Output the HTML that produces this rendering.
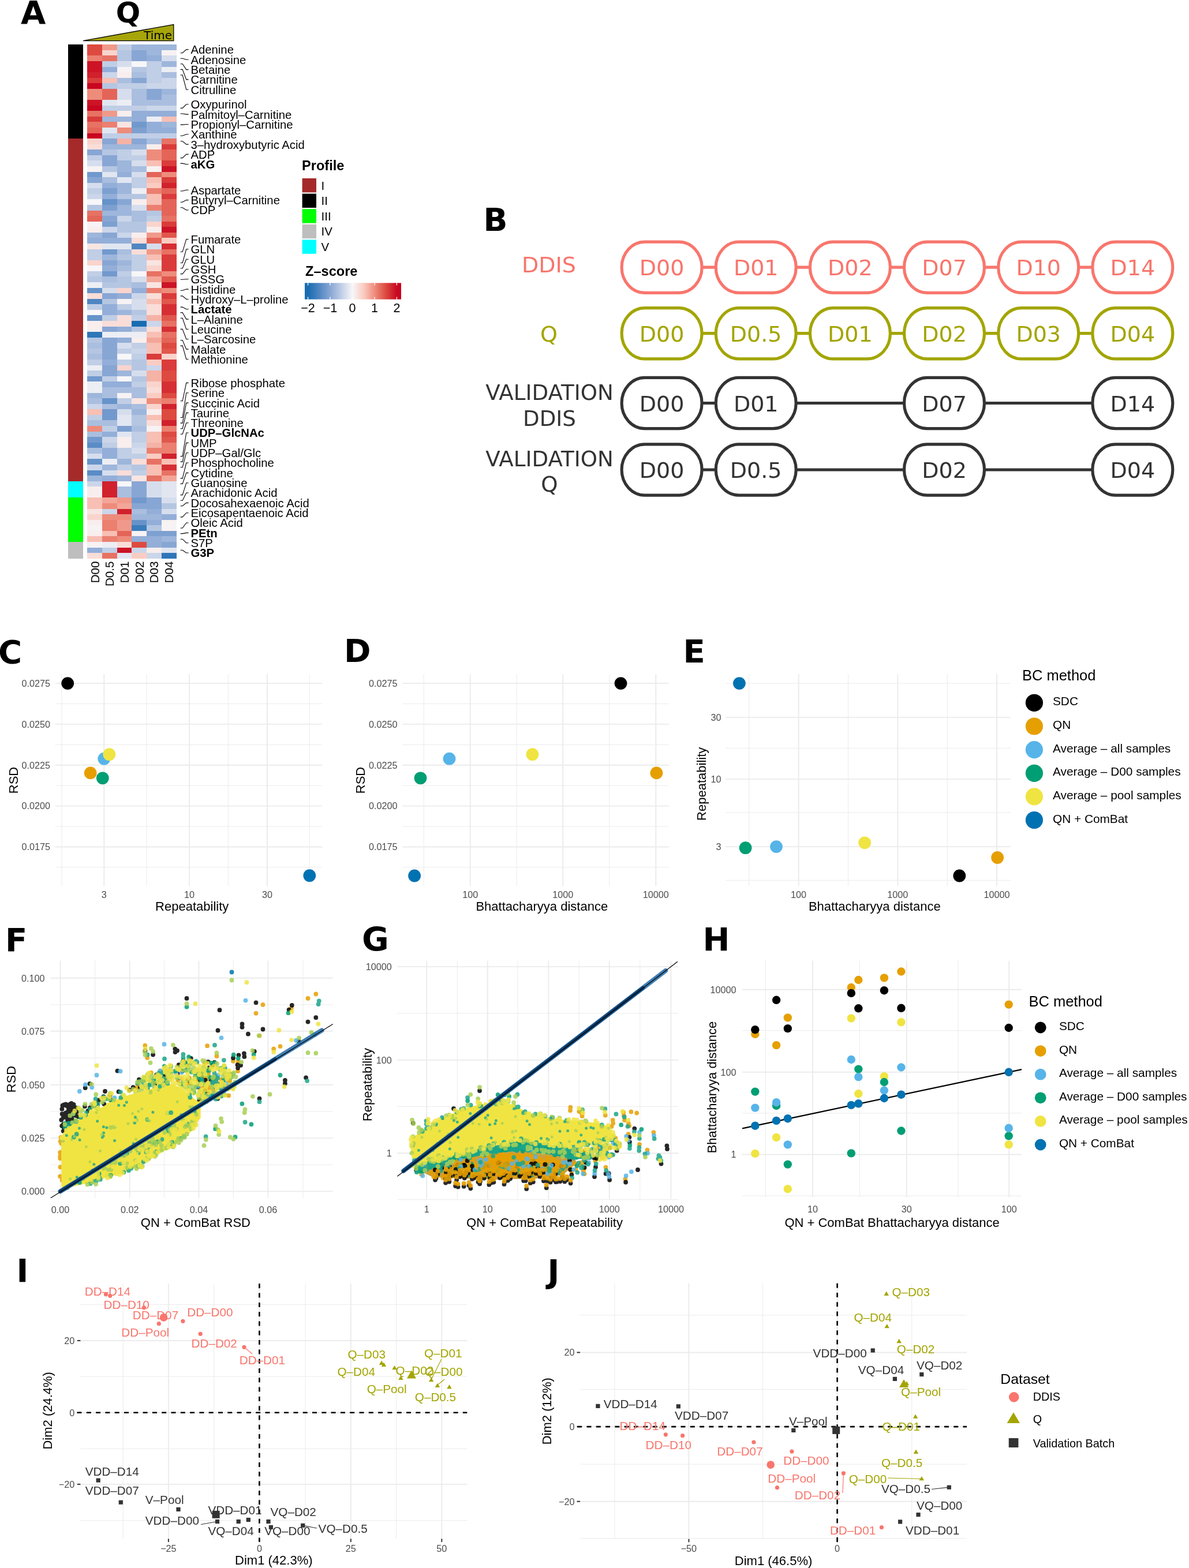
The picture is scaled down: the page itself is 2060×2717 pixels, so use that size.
<!DOCTYPE html>
<html><head><meta charset="utf-8"><title>Figure</title>
<style>html,body{margin:0;padding:0;background:#fff;width:2060px;height:2717px}svg{display:block}</style></head><body>
<svg width="2060" height="2717" viewBox="0 0 2060 2717" font-family="Liberation Sans,Arial,Helvetica,sans-serif">
<rect width="2060" height="2717" fill="#fff"/>
<text x="36" y="40.6" font-size="56" font-family="'DejaVu Sans',sans-serif" font-weight="bold">A</text>
<text x="222" y="39.2" font-size="50" font-family="'DejaVu Sans',sans-serif" font-weight="bold" text-anchor="middle">Q</text>
<path d="M144 70.6L300.8 42.5V70.6Z" fill="#A6A50A" stroke="#000" stroke-width="1.3"/>
<text x="298" y="67.9" font-size="20" font-family="'DejaVu Sans',sans-serif" text-anchor="end">Time</text>
<g shape-rendering="crispEdges">
<rect x="151" y="77.3" width="26.1" height="10" fill="#dd4a40"/>
<rect x="176.7" y="77.3" width="26.1" height="10" fill="#f0998a"/>
<rect x="202.5" y="77.3" width="26.1" height="10" fill="#c0cee6"/>
<rect x="228.2" y="77.3" width="26.1" height="10" fill="#9eb6db"/>
<rect x="253.9" y="77.3" width="26.1" height="10" fill="#9eb6db"/>
<rect x="279.6" y="77.3" width="26.1" height="10" fill="#9eb6db"/>
<rect x="151" y="86.9" width="26.1" height="10" fill="#dd4a40"/>
<rect x="176.7" y="86.9" width="26.1" height="10" fill="#f9d4cd"/>
<rect x="202.5" y="86.9" width="26.1" height="10" fill="#b5c6e2"/>
<rect x="228.2" y="86.9" width="26.1" height="10" fill="#88a6d4"/>
<rect x="253.9" y="86.9" width="26.1" height="10" fill="#9eb6db"/>
<rect x="279.6" y="86.9" width="26.1" height="10" fill="#f7f2f3"/>
<rect x="151" y="96.4" width="26.1" height="10" fill="#eb7f70"/>
<rect x="176.7" y="96.4" width="26.1" height="10" fill="#e77264"/>
<rect x="202.5" y="96.4" width="26.1" height="10" fill="#b5c6e2"/>
<rect x="228.2" y="96.4" width="26.1" height="10" fill="#88a6d4"/>
<rect x="253.9" y="96.4" width="26.1" height="10" fill="#93aed8"/>
<rect x="279.6" y="96.4" width="26.1" height="10" fill="#d6deed"/>
<rect x="151" y="106" width="26.1" height="10" fill="#cc1426"/>
<rect x="176.7" y="106" width="26.1" height="10" fill="#c0cee6"/>
<rect x="202.5" y="106" width="26.1" height="10" fill="#d6deed"/>
<rect x="228.2" y="106" width="26.1" height="10" fill="#f7f6f8"/>
<rect x="253.9" y="106" width="26.1" height="10" fill="#c0cee6"/>
<rect x="279.6" y="106" width="26.1" height="10" fill="#9eb6db"/>
<rect x="151" y="115.6" width="26.1" height="10" fill="#cc1426"/>
<rect x="176.7" y="115.6" width="26.1" height="10" fill="#93aed8"/>
<rect x="202.5" y="115.6" width="26.1" height="10" fill="#f7f2f3"/>
<rect x="228.2" y="115.6" width="26.1" height="10" fill="#b5c6e2"/>
<rect x="253.9" y="115.6" width="26.1" height="10" fill="#c0cee6"/>
<rect x="279.6" y="115.6" width="26.1" height="10" fill="#eceef4"/>
<rect x="151" y="125.2" width="26.1" height="10" fill="#d0212d"/>
<rect x="176.7" y="125.2" width="26.1" height="10" fill="#cbd6ea"/>
<rect x="202.5" y="125.2" width="26.1" height="10" fill="#f8eeed"/>
<rect x="228.2" y="125.2" width="26.1" height="10" fill="#aabedf"/>
<rect x="253.9" y="125.2" width="26.1" height="10" fill="#c0cee6"/>
<rect x="279.6" y="125.2" width="26.1" height="10" fill="#aabedf"/>
<rect x="151" y="134.7" width="26.1" height="10" fill="#d93c3a"/>
<rect x="176.7" y="134.7" width="26.1" height="10" fill="#f8bfb4"/>
<rect x="202.5" y="134.7" width="26.1" height="10" fill="#aabedf"/>
<rect x="228.2" y="134.7" width="26.1" height="10" fill="#88a6d4"/>
<rect x="253.9" y="134.7" width="26.1" height="10" fill="#c0cee6"/>
<rect x="279.6" y="134.7" width="26.1" height="10" fill="#cbd6ea"/>
<rect x="151" y="144.3" width="26.1" height="10" fill="#c80620"/>
<rect x="176.7" y="144.3" width="26.1" height="10" fill="#b5c6e2"/>
<rect x="202.5" y="144.3" width="26.1" height="10" fill="#c0cee6"/>
<rect x="228.2" y="144.3" width="26.1" height="10" fill="#c0cee6"/>
<rect x="253.9" y="144.3" width="26.1" height="10" fill="#cbd6ea"/>
<rect x="279.6" y="144.3" width="26.1" height="10" fill="#cbd6ea"/>
<rect x="151" y="153.9" width="26.1" height="10" fill="#ee8c7c"/>
<rect x="176.7" y="153.9" width="26.1" height="10" fill="#e46458"/>
<rect x="202.5" y="153.9" width="26.1" height="10" fill="#d6deed"/>
<rect x="228.2" y="153.9" width="26.1" height="10" fill="#aabedf"/>
<rect x="253.9" y="153.9" width="26.1" height="10" fill="#88a6d4"/>
<rect x="279.6" y="153.9" width="26.1" height="10" fill="#9eb6db"/>
<rect x="151" y="163.5" width="26.1" height="10" fill="#ee8c7c"/>
<rect x="176.7" y="163.5" width="26.1" height="10" fill="#e46458"/>
<rect x="202.5" y="163.5" width="26.1" height="10" fill="#d6deed"/>
<rect x="228.2" y="163.5" width="26.1" height="10" fill="#aabedf"/>
<rect x="253.9" y="163.5" width="26.1" height="10" fill="#88a6d4"/>
<rect x="279.6" y="163.5" width="26.1" height="10" fill="#aabedf"/>
<rect x="151" y="173" width="26.1" height="10" fill="#cc1426"/>
<rect x="176.7" y="173" width="26.1" height="10" fill="#e1e6f1"/>
<rect x="202.5" y="173" width="26.1" height="10" fill="#eceef4"/>
<rect x="228.2" y="173" width="26.1" height="10" fill="#aabedf"/>
<rect x="253.9" y="173" width="26.1" height="10" fill="#aabedf"/>
<rect x="279.6" y="173" width="26.1" height="10" fill="#aabedf"/>
<rect x="151" y="182.6" width="26.1" height="10" fill="#c80620"/>
<rect x="176.7" y="182.6" width="26.1" height="10" fill="#c0cee6"/>
<rect x="202.5" y="182.6" width="26.1" height="10" fill="#c0cee6"/>
<rect x="228.2" y="182.6" width="26.1" height="10" fill="#c0cee6"/>
<rect x="253.9" y="182.6" width="26.1" height="10" fill="#cbd6ea"/>
<rect x="279.6" y="182.6" width="26.1" height="10" fill="#cbd6ea"/>
<rect x="151" y="192.2" width="26.1" height="10" fill="#e77264"/>
<rect x="176.7" y="192.2" width="26.1" height="10" fill="#f0998a"/>
<rect x="202.5" y="192.2" width="26.1" height="10" fill="#f8eeed"/>
<rect x="228.2" y="192.2" width="26.1" height="10" fill="#93aed8"/>
<rect x="253.9" y="192.2" width="26.1" height="10" fill="#93aed8"/>
<rect x="279.6" y="192.2" width="26.1" height="10" fill="#93aed8"/>
<rect x="151" y="201.8" width="26.1" height="10" fill="#d93c3a"/>
<rect x="176.7" y="201.8" width="26.1" height="10" fill="#9eb6db"/>
<rect x="202.5" y="201.8" width="26.1" height="10" fill="#9eb6db"/>
<rect x="228.2" y="201.8" width="26.1" height="10" fill="#93aed8"/>
<rect x="253.9" y="201.8" width="26.1" height="10" fill="#eceef4"/>
<rect x="279.6" y="201.8" width="26.1" height="10" fill="#f8bfb4"/>
<rect x="151" y="211.3" width="26.1" height="10" fill="#e77264"/>
<rect x="176.7" y="211.3" width="26.1" height="10" fill="#eb7f70"/>
<rect x="202.5" y="211.3" width="26.1" height="10" fill="#f8e5e2"/>
<rect x="228.2" y="211.3" width="26.1" height="10" fill="#7299cd"/>
<rect x="253.9" y="211.3" width="26.1" height="10" fill="#93aed8"/>
<rect x="279.6" y="211.3" width="26.1" height="10" fill="#9eb6db"/>
<rect x="151" y="220.9" width="26.1" height="10" fill="#e46458"/>
<rect x="176.7" y="220.9" width="26.1" height="10" fill="#e1e6f1"/>
<rect x="202.5" y="220.9" width="26.1" height="10" fill="#ee8c7c"/>
<rect x="228.2" y="220.9" width="26.1" height="10" fill="#7da0d0"/>
<rect x="253.9" y="220.9" width="26.1" height="10" fill="#93aed8"/>
<rect x="279.6" y="220.9" width="26.1" height="10" fill="#93aed8"/>
<rect x="151" y="230.5" width="26.1" height="10" fill="#c80620"/>
<rect x="176.7" y="230.5" width="26.1" height="10" fill="#c0cee6"/>
<rect x="202.5" y="230.5" width="26.1" height="10" fill="#c0cee6"/>
<rect x="228.2" y="230.5" width="26.1" height="10" fill="#c0cee6"/>
<rect x="253.9" y="230.5" width="26.1" height="10" fill="#c0cee6"/>
<rect x="279.6" y="230.5" width="26.1" height="10" fill="#c0cee6"/>
<rect x="151" y="240.1" width="26.1" height="10" fill="#f9d4cd"/>
<rect x="176.7" y="240.1" width="26.1" height="10" fill="#88a6d4"/>
<rect x="202.5" y="240.1" width="26.1" height="10" fill="#f5b2a6"/>
<rect x="228.2" y="240.1" width="26.1" height="10" fill="#88a6d4"/>
<rect x="253.9" y="240.1" width="26.1" height="10" fill="#aabedf"/>
<rect x="279.6" y="240.1" width="26.1" height="10" fill="#e77264"/>
<rect x="151" y="249.6" width="26.1" height="10" fill="#f9ddd8"/>
<rect x="176.7" y="249.6" width="26.1" height="10" fill="#9eb6db"/>
<rect x="202.5" y="249.6" width="26.1" height="10" fill="#9eb6db"/>
<rect x="228.2" y="249.6" width="26.1" height="10" fill="#9eb6db"/>
<rect x="253.9" y="249.6" width="26.1" height="10" fill="#f8eeed"/>
<rect x="279.6" y="249.6" width="26.1" height="10" fill="#d93c3a"/>
<rect x="151" y="259.2" width="26.1" height="10" fill="#88a6d4"/>
<rect x="176.7" y="259.2" width="26.1" height="10" fill="#b5c6e2"/>
<rect x="202.5" y="259.2" width="26.1" height="10" fill="#c0cee6"/>
<rect x="228.2" y="259.2" width="26.1" height="10" fill="#d6deed"/>
<rect x="253.9" y="259.2" width="26.1" height="10" fill="#ee8c7c"/>
<rect x="279.6" y="259.2" width="26.1" height="10" fill="#e46458"/>
<rect x="151" y="268.8" width="26.1" height="10" fill="#c0cee6"/>
<rect x="176.7" y="268.8" width="26.1" height="10" fill="#88a6d4"/>
<rect x="202.5" y="268.8" width="26.1" height="10" fill="#c0cee6"/>
<rect x="228.2" y="268.8" width="26.1" height="10" fill="#c0cee6"/>
<rect x="253.9" y="268.8" width="26.1" height="10" fill="#ee8c7c"/>
<rect x="279.6" y="268.8" width="26.1" height="10" fill="#e46458"/>
<rect x="151" y="278.4" width="26.1" height="10" fill="#d6deed"/>
<rect x="176.7" y="278.4" width="26.1" height="10" fill="#88a6d4"/>
<rect x="202.5" y="278.4" width="26.1" height="10" fill="#9eb6db"/>
<rect x="228.2" y="278.4" width="26.1" height="10" fill="#d6deed"/>
<rect x="253.9" y="278.4" width="26.1" height="10" fill="#f8bfb4"/>
<rect x="279.6" y="278.4" width="26.1" height="10" fill="#d93c3a"/>
<rect x="151" y="287.9" width="26.1" height="10" fill="#f7f2f3"/>
<rect x="176.7" y="287.9" width="26.1" height="10" fill="#b5c6e2"/>
<rect x="202.5" y="287.9" width="26.1" height="10" fill="#9eb6db"/>
<rect x="228.2" y="287.9" width="26.1" height="10" fill="#aabedf"/>
<rect x="253.9" y="287.9" width="26.1" height="10" fill="#f7f2f3"/>
<rect x="279.6" y="287.9" width="26.1" height="10" fill="#cc1426"/>
<rect x="151" y="297.5" width="26.1" height="10" fill="#7299cd"/>
<rect x="176.7" y="297.5" width="26.1" height="10" fill="#e1e6f1"/>
<rect x="202.5" y="297.5" width="26.1" height="10" fill="#93aed8"/>
<rect x="228.2" y="297.5" width="26.1" height="10" fill="#d6deed"/>
<rect x="253.9" y="297.5" width="26.1" height="10" fill="#e46458"/>
<rect x="279.6" y="297.5" width="26.1" height="10" fill="#ee8c7c"/>
<rect x="151" y="307.1" width="26.1" height="10" fill="#88a6d4"/>
<rect x="176.7" y="307.1" width="26.1" height="10" fill="#aabedf"/>
<rect x="202.5" y="307.1" width="26.1" height="10" fill="#e1e6f1"/>
<rect x="228.2" y="307.1" width="26.1" height="10" fill="#c0cee6"/>
<rect x="253.9" y="307.1" width="26.1" height="10" fill="#f8bfb4"/>
<rect x="279.6" y="307.1" width="26.1" height="10" fill="#d93c3a"/>
<rect x="151" y="316.6" width="26.1" height="10" fill="#d6deed"/>
<rect x="176.7" y="316.6" width="26.1" height="10" fill="#93aed8"/>
<rect x="202.5" y="316.6" width="26.1" height="10" fill="#9eb6db"/>
<rect x="228.2" y="316.6" width="26.1" height="10" fill="#c0cee6"/>
<rect x="253.9" y="316.6" width="26.1" height="10" fill="#faccc2"/>
<rect x="279.6" y="316.6" width="26.1" height="10" fill="#d0212d"/>
<rect x="151" y="326.2" width="26.1" height="10" fill="#c0cee6"/>
<rect x="176.7" y="326.2" width="26.1" height="10" fill="#7da0d0"/>
<rect x="202.5" y="326.2" width="26.1" height="10" fill="#9eb6db"/>
<rect x="228.2" y="326.2" width="26.1" height="10" fill="#eceef4"/>
<rect x="253.9" y="326.2" width="26.1" height="10" fill="#eb7f70"/>
<rect x="279.6" y="326.2" width="26.1" height="10" fill="#e46458"/>
<rect x="151" y="335.8" width="26.1" height="10" fill="#cbd6ea"/>
<rect x="176.7" y="335.8" width="26.1" height="10" fill="#93aed8"/>
<rect x="202.5" y="335.8" width="26.1" height="10" fill="#b5c6e2"/>
<rect x="228.2" y="335.8" width="26.1" height="10" fill="#b5c6e2"/>
<rect x="253.9" y="335.8" width="26.1" height="10" fill="#f8bfb4"/>
<rect x="279.6" y="335.8" width="26.1" height="10" fill="#d93c3a"/>
<rect x="151" y="345.4" width="26.1" height="10" fill="#f7f6f8"/>
<rect x="176.7" y="345.4" width="26.1" height="10" fill="#6693c9"/>
<rect x="202.5" y="345.4" width="26.1" height="10" fill="#88a6d4"/>
<rect x="228.2" y="345.4" width="26.1" height="10" fill="#f8eeed"/>
<rect x="253.9" y="345.4" width="26.1" height="10" fill="#f8bfb4"/>
<rect x="279.6" y="345.4" width="26.1" height="10" fill="#e46458"/>
<rect x="151" y="354.9" width="26.1" height="10" fill="#b5c6e2"/>
<rect x="176.7" y="354.9" width="26.1" height="10" fill="#7da0d0"/>
<rect x="202.5" y="354.9" width="26.1" height="10" fill="#9eb6db"/>
<rect x="228.2" y="354.9" width="26.1" height="10" fill="#d6deed"/>
<rect x="253.9" y="354.9" width="26.1" height="10" fill="#eb7f70"/>
<rect x="279.6" y="354.9" width="26.1" height="10" fill="#e46458"/>
<rect x="151" y="364.5" width="26.1" height="10" fill="#e77264"/>
<rect x="176.7" y="364.5" width="26.1" height="10" fill="#9eb6db"/>
<rect x="202.5" y="364.5" width="26.1" height="10" fill="#9eb6db"/>
<rect x="228.2" y="364.5" width="26.1" height="10" fill="#aabedf"/>
<rect x="253.9" y="364.5" width="26.1" height="10" fill="#b5c6e2"/>
<rect x="279.6" y="364.5" width="26.1" height="10" fill="#e46458"/>
<rect x="151" y="374.1" width="26.1" height="10" fill="#e46458"/>
<rect x="176.7" y="374.1" width="26.1" height="10" fill="#88a6d4"/>
<rect x="202.5" y="374.1" width="26.1" height="10" fill="#cbd6ea"/>
<rect x="228.2" y="374.1" width="26.1" height="10" fill="#aabedf"/>
<rect x="253.9" y="374.1" width="26.1" height="10" fill="#c0cee6"/>
<rect x="279.6" y="374.1" width="26.1" height="10" fill="#e77264"/>
<rect x="151" y="383.7" width="26.1" height="10" fill="#f7f2f3"/>
<rect x="176.7" y="383.7" width="26.1" height="10" fill="#7da0d0"/>
<rect x="202.5" y="383.7" width="26.1" height="10" fill="#b5c6e2"/>
<rect x="228.2" y="383.7" width="26.1" height="10" fill="#b5c6e2"/>
<rect x="253.9" y="383.7" width="26.1" height="10" fill="#f9d4cd"/>
<rect x="279.6" y="383.7" width="26.1" height="10" fill="#d93c3a"/>
<rect x="151" y="393.2" width="26.1" height="10" fill="#f8eeed"/>
<rect x="176.7" y="393.2" width="26.1" height="10" fill="#cbd6ea"/>
<rect x="202.5" y="393.2" width="26.1" height="10" fill="#b5c6e2"/>
<rect x="228.2" y="393.2" width="26.1" height="10" fill="#b5c6e2"/>
<rect x="253.9" y="393.2" width="26.1" height="10" fill="#f8eeed"/>
<rect x="279.6" y="393.2" width="26.1" height="10" fill="#cc1426"/>
<rect x="151" y="402.8" width="26.1" height="10" fill="#9eb6db"/>
<rect x="176.7" y="402.8" width="26.1" height="10" fill="#88a6d4"/>
<rect x="202.5" y="402.8" width="26.1" height="10" fill="#cbd6ea"/>
<rect x="228.2" y="402.8" width="26.1" height="10" fill="#f8eeed"/>
<rect x="253.9" y="402.8" width="26.1" height="10" fill="#f0998a"/>
<rect x="279.6" y="402.8" width="26.1" height="10" fill="#e0574c"/>
<rect x="151" y="412.4" width="26.1" height="10" fill="#93aed8"/>
<rect x="176.7" y="412.4" width="26.1" height="10" fill="#93aed8"/>
<rect x="202.5" y="412.4" width="26.1" height="10" fill="#93aed8"/>
<rect x="228.2" y="412.4" width="26.1" height="10" fill="#f9ddd8"/>
<rect x="253.9" y="412.4" width="26.1" height="10" fill="#e46458"/>
<rect x="279.6" y="412.4" width="26.1" height="10" fill="#faccc2"/>
<rect x="151" y="422" width="26.1" height="10" fill="#f8e5e2"/>
<rect x="176.7" y="422" width="26.1" height="10" fill="#e1e6f1"/>
<rect x="202.5" y="422" width="26.1" height="10" fill="#e1e6f1"/>
<rect x="228.2" y="422" width="26.1" height="10" fill="#5086c2"/>
<rect x="253.9" y="422" width="26.1" height="10" fill="#d6deed"/>
<rect x="279.6" y="422" width="26.1" height="10" fill="#d52f33"/>
<rect x="151" y="431.5" width="26.1" height="10" fill="#c0cee6"/>
<rect x="176.7" y="431.5" width="26.1" height="10" fill="#7299cd"/>
<rect x="202.5" y="431.5" width="26.1" height="10" fill="#aabedf"/>
<rect x="228.2" y="431.5" width="26.1" height="10" fill="#f9ddd8"/>
<rect x="253.9" y="431.5" width="26.1" height="10" fill="#f0998a"/>
<rect x="279.6" y="431.5" width="26.1" height="10" fill="#e77264"/>
<rect x="151" y="441.1" width="26.1" height="10" fill="#c0cee6"/>
<rect x="176.7" y="441.1" width="26.1" height="10" fill="#9eb6db"/>
<rect x="202.5" y="441.1" width="26.1" height="10" fill="#b5c6e2"/>
<rect x="228.2" y="441.1" width="26.1" height="10" fill="#c0cee6"/>
<rect x="253.9" y="441.1" width="26.1" height="10" fill="#f8bfb4"/>
<rect x="279.6" y="441.1" width="26.1" height="10" fill="#d93c3a"/>
<rect x="151" y="450.7" width="26.1" height="10" fill="#f9d4cd"/>
<rect x="176.7" y="450.7" width="26.1" height="10" fill="#88a6d4"/>
<rect x="202.5" y="450.7" width="26.1" height="10" fill="#9eb6db"/>
<rect x="228.2" y="450.7" width="26.1" height="10" fill="#c0cee6"/>
<rect x="253.9" y="450.7" width="26.1" height="10" fill="#f8e5e2"/>
<rect x="279.6" y="450.7" width="26.1" height="10" fill="#d93c3a"/>
<rect x="151" y="460.3" width="26.1" height="10" fill="#f7f6f8"/>
<rect x="176.7" y="460.3" width="26.1" height="10" fill="#93aed8"/>
<rect x="202.5" y="460.3" width="26.1" height="10" fill="#aabedf"/>
<rect x="228.2" y="460.3" width="26.1" height="10" fill="#c0cee6"/>
<rect x="253.9" y="460.3" width="26.1" height="10" fill="#f9d4cd"/>
<rect x="279.6" y="460.3" width="26.1" height="10" fill="#d93c3a"/>
<rect x="151" y="469.8" width="26.1" height="10" fill="#c0cee6"/>
<rect x="176.7" y="469.8" width="26.1" height="10" fill="#7299cd"/>
<rect x="202.5" y="469.8" width="26.1" height="10" fill="#c0cee6"/>
<rect x="228.2" y="469.8" width="26.1" height="10" fill="#f7f6f8"/>
<rect x="253.9" y="469.8" width="26.1" height="10" fill="#e77264"/>
<rect x="279.6" y="469.8" width="26.1" height="10" fill="#ee8c7c"/>
<rect x="151" y="479.4" width="26.1" height="10" fill="#b5c6e2"/>
<rect x="176.7" y="479.4" width="26.1" height="10" fill="#aabedf"/>
<rect x="202.5" y="479.4" width="26.1" height="10" fill="#b5c6e2"/>
<rect x="228.2" y="479.4" width="26.1" height="10" fill="#d6deed"/>
<rect x="253.9" y="479.4" width="26.1" height="10" fill="#f3a698"/>
<rect x="279.6" y="479.4" width="26.1" height="10" fill="#e0574c"/>
<rect x="151" y="489" width="26.1" height="10" fill="#eceef4"/>
<rect x="176.7" y="489" width="26.1" height="10" fill="#b5c6e2"/>
<rect x="202.5" y="489" width="26.1" height="10" fill="#b5c6e2"/>
<rect x="228.2" y="489" width="26.1" height="10" fill="#aabedf"/>
<rect x="253.9" y="489" width="26.1" height="10" fill="#f8e5e2"/>
<rect x="279.6" y="489" width="26.1" height="10" fill="#cc1426"/>
<rect x="151" y="498.6" width="26.1" height="10" fill="#6693c9"/>
<rect x="176.7" y="498.6" width="26.1" height="10" fill="#d6deed"/>
<rect x="202.5" y="498.6" width="26.1" height="10" fill="#f9d4cd"/>
<rect x="228.2" y="498.6" width="26.1" height="10" fill="#93aed8"/>
<rect x="253.9" y="498.6" width="26.1" height="10" fill="#eb7f70"/>
<rect x="279.6" y="498.6" width="26.1" height="10" fill="#ee8c7c"/>
<rect x="151" y="508.1" width="26.1" height="10" fill="#f9ddd8"/>
<rect x="176.7" y="508.1" width="26.1" height="10" fill="#88a6d4"/>
<rect x="202.5" y="508.1" width="26.1" height="10" fill="#93aed8"/>
<rect x="228.2" y="508.1" width="26.1" height="10" fill="#cbd6ea"/>
<rect x="253.9" y="508.1" width="26.1" height="10" fill="#f9ddd8"/>
<rect x="279.6" y="508.1" width="26.1" height="10" fill="#d93c3a"/>
<rect x="151" y="517.7" width="26.1" height="10" fill="#5086c2"/>
<rect x="176.7" y="517.7" width="26.1" height="10" fill="#b5c6e2"/>
<rect x="202.5" y="517.7" width="26.1" height="10" fill="#f7f2f3"/>
<rect x="228.2" y="517.7" width="26.1" height="10" fill="#d6deed"/>
<rect x="253.9" y="517.7" width="26.1" height="10" fill="#f8bfb4"/>
<rect x="279.6" y="517.7" width="26.1" height="10" fill="#e0574c"/>
<rect x="151" y="527.3" width="26.1" height="10" fill="#c0cee6"/>
<rect x="176.7" y="527.3" width="26.1" height="10" fill="#93aed8"/>
<rect x="202.5" y="527.3" width="26.1" height="10" fill="#c0cee6"/>
<rect x="228.2" y="527.3" width="26.1" height="10" fill="#d6deed"/>
<rect x="253.9" y="527.3" width="26.1" height="10" fill="#f9ddd8"/>
<rect x="279.6" y="527.3" width="26.1" height="10" fill="#d52f33"/>
<rect x="151" y="536.9" width="26.1" height="10" fill="#f7f6f8"/>
<rect x="176.7" y="536.9" width="26.1" height="10" fill="#93aed8"/>
<rect x="202.5" y="536.9" width="26.1" height="10" fill="#9eb6db"/>
<rect x="228.2" y="536.9" width="26.1" height="10" fill="#b5c6e2"/>
<rect x="253.9" y="536.9" width="26.1" height="10" fill="#f9ddd8"/>
<rect x="279.6" y="536.9" width="26.1" height="10" fill="#d52f33"/>
<rect x="151" y="546.4" width="26.1" height="10" fill="#6693c9"/>
<rect x="176.7" y="546.4" width="26.1" height="10" fill="#c0cee6"/>
<rect x="202.5" y="546.4" width="26.1" height="10" fill="#f9ddd8"/>
<rect x="228.2" y="546.4" width="26.1" height="10" fill="#c0cee6"/>
<rect x="253.9" y="546.4" width="26.1" height="10" fill="#f5b2a6"/>
<rect x="279.6" y="546.4" width="26.1" height="10" fill="#e0574c"/>
<rect x="151" y="556" width="26.1" height="10" fill="#f8eeed"/>
<rect x="176.7" y="556" width="26.1" height="10" fill="#f9ddd8"/>
<rect x="202.5" y="556" width="26.1" height="10" fill="#f9ddd8"/>
<rect x="228.2" y="556" width="26.1" height="10" fill="#196cb2"/>
<rect x="253.9" y="556" width="26.1" height="10" fill="#cbd6ea"/>
<rect x="279.6" y="556" width="26.1" height="10" fill="#e77264"/>
<rect x="151" y="565.6" width="26.1" height="10" fill="#f8eeed"/>
<rect x="176.7" y="565.6" width="26.1" height="10" fill="#88a6d4"/>
<rect x="202.5" y="565.6" width="26.1" height="10" fill="#93aed8"/>
<rect x="228.2" y="565.6" width="26.1" height="10" fill="#b5c6e2"/>
<rect x="253.9" y="565.6" width="26.1" height="10" fill="#f9ddd8"/>
<rect x="279.6" y="565.6" width="26.1" height="10" fill="#d52f33"/>
<rect x="151" y="575.1" width="26.1" height="10" fill="#2f76b8"/>
<rect x="176.7" y="575.1" width="26.1" height="10" fill="#eceef4"/>
<rect x="202.5" y="575.1" width="26.1" height="10" fill="#eceef4"/>
<rect x="228.2" y="575.1" width="26.1" height="10" fill="#eceef4"/>
<rect x="253.9" y="575.1" width="26.1" height="10" fill="#f8bfb4"/>
<rect x="279.6" y="575.1" width="26.1" height="10" fill="#e77264"/>
<rect x="151" y="584.7" width="26.1" height="10" fill="#b5c6e2"/>
<rect x="176.7" y="584.7" width="26.1" height="10" fill="#88a6d4"/>
<rect x="202.5" y="584.7" width="26.1" height="10" fill="#93aed8"/>
<rect x="228.2" y="584.7" width="26.1" height="10" fill="#f8eeed"/>
<rect x="253.9" y="584.7" width="26.1" height="10" fill="#f3a698"/>
<rect x="279.6" y="584.7" width="26.1" height="10" fill="#e46458"/>
<rect x="151" y="594.3" width="26.1" height="10" fill="#aabedf"/>
<rect x="176.7" y="594.3" width="26.1" height="10" fill="#88a6d4"/>
<rect x="202.5" y="594.3" width="26.1" height="10" fill="#d6deed"/>
<rect x="228.2" y="594.3" width="26.1" height="10" fill="#c0cee6"/>
<rect x="253.9" y="594.3" width="26.1" height="10" fill="#f8bfb4"/>
<rect x="279.6" y="594.3" width="26.1" height="10" fill="#dd4a40"/>
<rect x="151" y="603.9" width="26.1" height="10" fill="#b5c6e2"/>
<rect x="176.7" y="603.9" width="26.1" height="10" fill="#88a6d4"/>
<rect x="202.5" y="603.9" width="26.1" height="10" fill="#c0cee6"/>
<rect x="228.2" y="603.9" width="26.1" height="10" fill="#cbd6ea"/>
<rect x="253.9" y="603.9" width="26.1" height="10" fill="#f8bfb4"/>
<rect x="279.6" y="603.9" width="26.1" height="10" fill="#e0574c"/>
<rect x="151" y="613.4" width="26.1" height="10" fill="#aabedf"/>
<rect x="176.7" y="613.4" width="26.1" height="10" fill="#88a6d4"/>
<rect x="202.5" y="613.4" width="26.1" height="10" fill="#f7f6f8"/>
<rect x="228.2" y="613.4" width="26.1" height="10" fill="#c0cee6"/>
<rect x="253.9" y="613.4" width="26.1" height="10" fill="#d93c3a"/>
<rect x="279.6" y="613.4" width="26.1" height="10" fill="#f9d4cd"/>
<rect x="151" y="623" width="26.1" height="10" fill="#c0cee6"/>
<rect x="176.7" y="623" width="26.1" height="10" fill="#93aed8"/>
<rect x="202.5" y="623" width="26.1" height="10" fill="#c0cee6"/>
<rect x="228.2" y="623" width="26.1" height="10" fill="#b5c6e2"/>
<rect x="253.9" y="623" width="26.1" height="10" fill="#faccc2"/>
<rect x="279.6" y="623" width="26.1" height="10" fill="#d93c3a"/>
<rect x="151" y="632.6" width="26.1" height="10" fill="#eceef4"/>
<rect x="176.7" y="632.6" width="26.1" height="10" fill="#88a6d4"/>
<rect x="202.5" y="632.6" width="26.1" height="10" fill="#f9d4cd"/>
<rect x="228.2" y="632.6" width="26.1" height="10" fill="#b5c6e2"/>
<rect x="253.9" y="632.6" width="26.1" height="10" fill="#cbd6ea"/>
<rect x="279.6" y="632.6" width="26.1" height="10" fill="#d93c3a"/>
<rect x="151" y="642.2" width="26.1" height="10" fill="#c0cee6"/>
<rect x="176.7" y="642.2" width="26.1" height="10" fill="#88a6d4"/>
<rect x="202.5" y="642.2" width="26.1" height="10" fill="#9eb6db"/>
<rect x="228.2" y="642.2" width="26.1" height="10" fill="#d6deed"/>
<rect x="253.9" y="642.2" width="26.1" height="10" fill="#f5b2a6"/>
<rect x="279.6" y="642.2" width="26.1" height="10" fill="#dd4a40"/>
<rect x="151" y="651.7" width="26.1" height="10" fill="#7299cd"/>
<rect x="176.7" y="651.7" width="26.1" height="10" fill="#c0cee6"/>
<rect x="202.5" y="651.7" width="26.1" height="10" fill="#f7f6f8"/>
<rect x="228.2" y="651.7" width="26.1" height="10" fill="#b5c6e2"/>
<rect x="253.9" y="651.7" width="26.1" height="10" fill="#f5b2a6"/>
<rect x="279.6" y="651.7" width="26.1" height="10" fill="#dd4a40"/>
<rect x="151" y="661.3" width="26.1" height="10" fill="#eceef4"/>
<rect x="176.7" y="661.3" width="26.1" height="10" fill="#93aed8"/>
<rect x="202.5" y="661.3" width="26.1" height="10" fill="#93aed8"/>
<rect x="228.2" y="661.3" width="26.1" height="10" fill="#c0cee6"/>
<rect x="253.9" y="661.3" width="26.1" height="10" fill="#f9d4cd"/>
<rect x="279.6" y="661.3" width="26.1" height="10" fill="#d52f33"/>
<rect x="151" y="670.9" width="26.1" height="10" fill="#eceef4"/>
<rect x="176.7" y="670.9" width="26.1" height="10" fill="#aabedf"/>
<rect x="202.5" y="670.9" width="26.1" height="10" fill="#aabedf"/>
<rect x="228.2" y="670.9" width="26.1" height="10" fill="#aabedf"/>
<rect x="253.9" y="670.9" width="26.1" height="10" fill="#f9ddd8"/>
<rect x="279.6" y="670.9" width="26.1" height="10" fill="#d52f33"/>
<rect x="151" y="680.5" width="26.1" height="10" fill="#9eb6db"/>
<rect x="176.7" y="680.5" width="26.1" height="10" fill="#aabedf"/>
<rect x="202.5" y="680.5" width="26.1" height="10" fill="#f7f2f3"/>
<rect x="228.2" y="680.5" width="26.1" height="10" fill="#aabedf"/>
<rect x="253.9" y="680.5" width="26.1" height="10" fill="#faccc2"/>
<rect x="279.6" y="680.5" width="26.1" height="10" fill="#dd4a40"/>
<rect x="151" y="690" width="26.1" height="10" fill="#aabedf"/>
<rect x="176.7" y="690" width="26.1" height="10" fill="#6693c9"/>
<rect x="202.5" y="690" width="26.1" height="10" fill="#c0cee6"/>
<rect x="228.2" y="690" width="26.1" height="10" fill="#f8e5e2"/>
<rect x="253.9" y="690" width="26.1" height="10" fill="#ee8c7c"/>
<rect x="279.6" y="690" width="26.1" height="10" fill="#eb7f70"/>
<rect x="151" y="699.6" width="26.1" height="10" fill="#cbd6ea"/>
<rect x="176.7" y="699.6" width="26.1" height="10" fill="#aabedf"/>
<rect x="202.5" y="699.6" width="26.1" height="10" fill="#9eb6db"/>
<rect x="228.2" y="699.6" width="26.1" height="10" fill="#aabedf"/>
<rect x="253.9" y="699.6" width="26.1" height="10" fill="#f9d4cd"/>
<rect x="279.6" y="699.6" width="26.1" height="10" fill="#d0212d"/>
<rect x="151" y="709.2" width="26.1" height="10" fill="#f8bfb4"/>
<rect x="176.7" y="709.2" width="26.1" height="10" fill="#7299cd"/>
<rect x="202.5" y="709.2" width="26.1" height="10" fill="#d6deed"/>
<rect x="228.2" y="709.2" width="26.1" height="10" fill="#9eb6db"/>
<rect x="253.9" y="709.2" width="26.1" height="10" fill="#f8eeed"/>
<rect x="279.6" y="709.2" width="26.1" height="10" fill="#dd4a40"/>
<rect x="151" y="718.8" width="26.1" height="10" fill="#c0cee6"/>
<rect x="176.7" y="718.8" width="26.1" height="10" fill="#7299cd"/>
<rect x="202.5" y="718.8" width="26.1" height="10" fill="#e1e6f1"/>
<rect x="228.2" y="718.8" width="26.1" height="10" fill="#b5c6e2"/>
<rect x="253.9" y="718.8" width="26.1" height="10" fill="#f8bfb4"/>
<rect x="279.6" y="718.8" width="26.1" height="10" fill="#dd4a40"/>
<rect x="151" y="728.3" width="26.1" height="10" fill="#aabedf"/>
<rect x="176.7" y="728.3" width="26.1" height="10" fill="#aabedf"/>
<rect x="202.5" y="728.3" width="26.1" height="10" fill="#e1e6f1"/>
<rect x="228.2" y="728.3" width="26.1" height="10" fill="#b5c6e2"/>
<rect x="253.9" y="728.3" width="26.1" height="10" fill="#f9ddd8"/>
<rect x="279.6" y="728.3" width="26.1" height="10" fill="#d0212d"/>
<rect x="151" y="737.9" width="26.1" height="10" fill="#ee8c7c"/>
<rect x="176.7" y="737.9" width="26.1" height="10" fill="#c0cee6"/>
<rect x="202.5" y="737.9" width="26.1" height="10" fill="#7da0d0"/>
<rect x="228.2" y="737.9" width="26.1" height="10" fill="#aabedf"/>
<rect x="253.9" y="737.9" width="26.1" height="10" fill="#f7f2f3"/>
<rect x="279.6" y="737.9" width="26.1" height="10" fill="#eb7f70"/>
<rect x="151" y="747.5" width="26.1" height="10" fill="#aabedf"/>
<rect x="176.7" y="747.5" width="26.1" height="10" fill="#93aed8"/>
<rect x="202.5" y="747.5" width="26.1" height="10" fill="#e1e6f1"/>
<rect x="228.2" y="747.5" width="26.1" height="10" fill="#c0cee6"/>
<rect x="253.9" y="747.5" width="26.1" height="10" fill="#f8bfb4"/>
<rect x="279.6" y="747.5" width="26.1" height="10" fill="#dd4a40"/>
<rect x="151" y="757.1" width="26.1" height="10" fill="#7299cd"/>
<rect x="176.7" y="757.1" width="26.1" height="10" fill="#cbd6ea"/>
<rect x="202.5" y="757.1" width="26.1" height="10" fill="#f8eeed"/>
<rect x="228.2" y="757.1" width="26.1" height="10" fill="#c0cee6"/>
<rect x="253.9" y="757.1" width="26.1" height="10" fill="#f8bfb4"/>
<rect x="279.6" y="757.1" width="26.1" height="10" fill="#e0574c"/>
<rect x="151" y="766.6" width="26.1" height="10" fill="#5b8cc6"/>
<rect x="176.7" y="766.6" width="26.1" height="10" fill="#c0cee6"/>
<rect x="202.5" y="766.6" width="26.1" height="10" fill="#f8eeed"/>
<rect x="228.2" y="766.6" width="26.1" height="10" fill="#cbd6ea"/>
<rect x="253.9" y="766.6" width="26.1" height="10" fill="#f5b2a6"/>
<rect x="279.6" y="766.6" width="26.1" height="10" fill="#eb7f70"/>
<rect x="151" y="776.2" width="26.1" height="10" fill="#aabedf"/>
<rect x="176.7" y="776.2" width="26.1" height="10" fill="#93aed8"/>
<rect x="202.5" y="776.2" width="26.1" height="10" fill="#c0cee6"/>
<rect x="228.2" y="776.2" width="26.1" height="10" fill="#d6deed"/>
<rect x="253.9" y="776.2" width="26.1" height="10" fill="#eb7f70"/>
<rect x="279.6" y="776.2" width="26.1" height="10" fill="#eb7f70"/>
<rect x="151" y="785.8" width="26.1" height="10" fill="#d6deed"/>
<rect x="176.7" y="785.8" width="26.1" height="10" fill="#93aed8"/>
<rect x="202.5" y="785.8" width="26.1" height="10" fill="#c0cee6"/>
<rect x="228.2" y="785.8" width="26.1" height="10" fill="#c0cee6"/>
<rect x="253.9" y="785.8" width="26.1" height="10" fill="#faccc2"/>
<rect x="279.6" y="785.8" width="26.1" height="10" fill="#d0212d"/>
<rect x="151" y="795.3" width="26.1" height="10" fill="#6693c9"/>
<rect x="176.7" y="795.3" width="26.1" height="10" fill="#eceef4"/>
<rect x="202.5" y="795.3" width="26.1" height="10" fill="#9eb6db"/>
<rect x="228.2" y="795.3" width="26.1" height="10" fill="#f9ddd8"/>
<rect x="253.9" y="795.3" width="26.1" height="10" fill="#e77264"/>
<rect x="279.6" y="795.3" width="26.1" height="10" fill="#f8bfb4"/>
<rect x="151" y="804.9" width="26.1" height="10" fill="#cbd6ea"/>
<rect x="176.7" y="804.9" width="26.1" height="10" fill="#9eb6db"/>
<rect x="202.5" y="804.9" width="26.1" height="10" fill="#c0cee6"/>
<rect x="228.2" y="804.9" width="26.1" height="10" fill="#b5c6e2"/>
<rect x="253.9" y="804.9" width="26.1" height="10" fill="#f8bfb4"/>
<rect x="279.6" y="804.9" width="26.1" height="10" fill="#d52f33"/>
<rect x="151" y="814.5" width="26.1" height="10" fill="#5b8cc6"/>
<rect x="176.7" y="814.5" width="26.1" height="10" fill="#d6deed"/>
<rect x="202.5" y="814.5" width="26.1" height="10" fill="#f9ddd8"/>
<rect x="228.2" y="814.5" width="26.1" height="10" fill="#c0cee6"/>
<rect x="253.9" y="814.5" width="26.1" height="10" fill="#f8bfb4"/>
<rect x="279.6" y="814.5" width="26.1" height="10" fill="#e77264"/>
<rect x="151" y="824.1" width="26.1" height="10" fill="#9eb6db"/>
<rect x="176.7" y="824.1" width="26.1" height="10" fill="#93aed8"/>
<rect x="202.5" y="824.1" width="26.1" height="10" fill="#9eb6db"/>
<rect x="228.2" y="824.1" width="26.1" height="10" fill="#f8e5e2"/>
<rect x="253.9" y="824.1" width="26.1" height="10" fill="#e77264"/>
<rect x="279.6" y="824.1" width="26.1" height="10" fill="#f3a698"/>
<rect x="151" y="833.6" width="26.1" height="10" fill="#cbd6ea"/>
<rect x="176.7" y="833.6" width="26.1" height="10" fill="#d0212d"/>
<rect x="202.5" y="833.6" width="26.1" height="10" fill="#f7f6f8"/>
<rect x="228.2" y="833.6" width="26.1" height="10" fill="#88a6d4"/>
<rect x="253.9" y="833.6" width="26.1" height="10" fill="#d6deed"/>
<rect x="279.6" y="833.6" width="26.1" height="10" fill="#e1e6f1"/>
<rect x="151" y="843.2" width="26.1" height="10" fill="#f8eeed"/>
<rect x="176.7" y="843.2" width="26.1" height="10" fill="#d0212d"/>
<rect x="202.5" y="843.2" width="26.1" height="10" fill="#aabedf"/>
<rect x="228.2" y="843.2" width="26.1" height="10" fill="#88a6d4"/>
<rect x="253.9" y="843.2" width="26.1" height="10" fill="#d6deed"/>
<rect x="279.6" y="843.2" width="26.1" height="10" fill="#e1e6f1"/>
<rect x="151" y="852.8" width="26.1" height="10" fill="#f8eeed"/>
<rect x="176.7" y="852.8" width="26.1" height="10" fill="#d0212d"/>
<rect x="202.5" y="852.8" width="26.1" height="10" fill="#aabedf"/>
<rect x="228.2" y="852.8" width="26.1" height="10" fill="#88a6d4"/>
<rect x="253.9" y="852.8" width="26.1" height="10" fill="#d6deed"/>
<rect x="279.6" y="852.8" width="26.1" height="10" fill="#e1e6f1"/>
<rect x="151" y="862.4" width="26.1" height="10" fill="#f8bfb4"/>
<rect x="176.7" y="862.4" width="26.1" height="10" fill="#f3a698"/>
<rect x="202.5" y="862.4" width="26.1" height="10" fill="#f0998a"/>
<rect x="228.2" y="862.4" width="26.1" height="10" fill="#7299cd"/>
<rect x="253.9" y="862.4" width="26.1" height="10" fill="#88a6d4"/>
<rect x="279.6" y="862.4" width="26.1" height="10" fill="#d6deed"/>
<rect x="151" y="871.9" width="26.1" height="10" fill="#f8bfb4"/>
<rect x="176.7" y="871.9" width="26.1" height="10" fill="#ee8c7c"/>
<rect x="202.5" y="871.9" width="26.1" height="10" fill="#f3a698"/>
<rect x="228.2" y="871.9" width="26.1" height="10" fill="#88a6d4"/>
<rect x="253.9" y="871.9" width="26.1" height="10" fill="#88a6d4"/>
<rect x="279.6" y="871.9" width="26.1" height="10" fill="#b5c6e2"/>
<rect x="151" y="881.5" width="26.1" height="10" fill="#f8e5e2"/>
<rect x="176.7" y="881.5" width="26.1" height="10" fill="#cbd6ea"/>
<rect x="202.5" y="881.5" width="26.1" height="10" fill="#d0212d"/>
<rect x="228.2" y="881.5" width="26.1" height="10" fill="#aabedf"/>
<rect x="253.9" y="881.5" width="26.1" height="10" fill="#93aed8"/>
<rect x="279.6" y="881.5" width="26.1" height="10" fill="#d6deed"/>
<rect x="151" y="891.1" width="26.1" height="10" fill="#f9d4cd"/>
<rect x="176.7" y="891.1" width="26.1" height="10" fill="#ee8c7c"/>
<rect x="202.5" y="891.1" width="26.1" height="10" fill="#ee8c7c"/>
<rect x="228.2" y="891.1" width="26.1" height="10" fill="#9eb6db"/>
<rect x="253.9" y="891.1" width="26.1" height="10" fill="#9eb6db"/>
<rect x="279.6" y="891.1" width="26.1" height="10" fill="#93aed8"/>
<rect x="151" y="900.7" width="26.1" height="10" fill="#f8eeed"/>
<rect x="176.7" y="900.7" width="26.1" height="10" fill="#eb7f70"/>
<rect x="202.5" y="900.7" width="26.1" height="10" fill="#f0998a"/>
<rect x="228.2" y="900.7" width="26.1" height="10" fill="#6693c9"/>
<rect x="253.9" y="900.7" width="26.1" height="10" fill="#93aed8"/>
<rect x="279.6" y="900.7" width="26.1" height="10" fill="#f7f2f3"/>
<rect x="151" y="910.2" width="26.1" height="10" fill="#f7f2f3"/>
<rect x="176.7" y="910.2" width="26.1" height="10" fill="#eb7f70"/>
<rect x="202.5" y="910.2" width="26.1" height="10" fill="#f0998a"/>
<rect x="228.2" y="910.2" width="26.1" height="10" fill="#3a7cbc"/>
<rect x="253.9" y="910.2" width="26.1" height="10" fill="#b5c6e2"/>
<rect x="279.6" y="910.2" width="26.1" height="10" fill="#f7f2f3"/>
<rect x="151" y="919.8" width="26.1" height="10" fill="#f8eeed"/>
<rect x="176.7" y="919.8" width="26.1" height="10" fill="#f8bfb4"/>
<rect x="202.5" y="919.8" width="26.1" height="10" fill="#e46458"/>
<rect x="228.2" y="919.8" width="26.1" height="10" fill="#f7f2f3"/>
<rect x="253.9" y="919.8" width="26.1" height="10" fill="#7da0d0"/>
<rect x="279.6" y="919.8" width="26.1" height="10" fill="#7da0d0"/>
<rect x="151" y="929.4" width="26.1" height="10" fill="#f8bfb4"/>
<rect x="176.7" y="929.4" width="26.1" height="10" fill="#eb7f70"/>
<rect x="202.5" y="929.4" width="26.1" height="10" fill="#ee8c7c"/>
<rect x="228.2" y="929.4" width="26.1" height="10" fill="#93aed8"/>
<rect x="253.9" y="929.4" width="26.1" height="10" fill="#93aed8"/>
<rect x="279.6" y="929.4" width="26.1" height="10" fill="#9eb6db"/>
<rect x="151" y="939" width="26.1" height="10" fill="#f7f2f3"/>
<rect x="176.7" y="939" width="26.1" height="10" fill="#eceef4"/>
<rect x="202.5" y="939" width="26.1" height="10" fill="#f9ddd8"/>
<rect x="228.2" y="939" width="26.1" height="10" fill="#dd4a40"/>
<rect x="253.9" y="939" width="26.1" height="10" fill="#93aed8"/>
<rect x="279.6" y="939" width="26.1" height="10" fill="#88a6d4"/>
<rect x="151" y="948.5" width="26.1" height="10" fill="#93aed8"/>
<rect x="176.7" y="948.5" width="26.1" height="10" fill="#c0cee6"/>
<rect x="202.5" y="948.5" width="26.1" height="10" fill="#cc1426"/>
<rect x="228.2" y="948.5" width="26.1" height="10" fill="#cbd6ea"/>
<rect x="253.9" y="948.5" width="26.1" height="10" fill="#f8eeed"/>
<rect x="279.6" y="948.5" width="26.1" height="10" fill="#e1e6f1"/>
<rect x="151" y="958.1" width="26.1" height="10" fill="#f9ddd8"/>
<rect x="176.7" y="958.1" width="26.1" height="10" fill="#e77264"/>
<rect x="202.5" y="958.1" width="26.1" height="10" fill="#e1e6f1"/>
<rect x="228.2" y="958.1" width="26.1" height="10" fill="#faccc2"/>
<rect x="253.9" y="958.1" width="26.1" height="10" fill="#cbd6ea"/>
<rect x="279.6" y="958.1" width="26.1" height="10" fill="#2f76b8"/>
</g>
<rect x="118.3" y="77.3" width="25.7" height="163.1" fill="#000000" shape-rendering="crispEdges"/>
<rect x="118.3" y="240.1" width="25.7" height="593.9" fill="#A52A2A" shape-rendering="crispEdges"/>
<rect x="118.3" y="833.6" width="25.7" height="29" fill="#00FFFF" shape-rendering="crispEdges"/>
<rect x="118.3" y="862.4" width="25.7" height="76.9" fill="#00FF00" shape-rendering="crispEdges"/>
<rect x="118.3" y="939" width="25.7" height="29" fill="#BEBEBE" shape-rendering="crispEdges"/>
<polyline points="312.6,91.7 316.2,91.7 322.8,85.9 326.6,85.9" fill="none" stroke="#000" stroke-width="1.1"/>
<text x="330.5" y="93.3" font-size="20.3">Adenine</text>
<polyline points="312.6,101.2 316.2,101.2 322.8,103.2 326.6,103.2" fill="none" stroke="#000" stroke-width="1.1"/>
<text x="330.5" y="110.6" font-size="20.3">Adenosine</text>
<polyline points="312.6,110.8 316.2,110.8 322.8,120.6 326.6,120.6" fill="none" stroke="#000" stroke-width="1.1"/>
<text x="330.5" y="128" font-size="20.3">Betaine</text>
<polyline points="312.6,120.4 316.2,120.4 322.8,137.9 326.6,137.9" fill="none" stroke="#000" stroke-width="1.1"/>
<text x="330.5" y="145.3" font-size="20.3">Carnitine</text>
<polyline points="312.6,130 316.2,130 322.8,155.2 326.6,155.2" fill="none" stroke="#000" stroke-width="1.1"/>
<text x="330.5" y="162.6" font-size="20.3">Citrulline</text>
<polyline points="312.6,187.4 316.2,187.4 322.8,180.8 326.6,180.8" fill="none" stroke="#000" stroke-width="1.1"/>
<text x="330.5" y="188.2" font-size="20.3">Oxypurinol</text>
<polyline points="312.6,197 316.2,197 322.8,198.1 326.6,198.1" fill="none" stroke="#000" stroke-width="1.1"/>
<text x="330.5" y="205.5" font-size="20.3">Palmitoyl–Carnitine</text>
<polyline points="312.6,216.1 316.2,216.1 322.8,215.5 326.6,215.5" fill="none" stroke="#000" stroke-width="1.1"/>
<text x="330.5" y="222.9" font-size="20.3">Propionyl–Carnitine</text>
<polyline points="312.6,235.3 316.2,235.3 322.8,232.8 326.6,232.8" fill="none" stroke="#000" stroke-width="1.1"/>
<text x="330.5" y="240.2" font-size="20.3">Xanthine</text>
<polyline points="312.6,244.8 316.2,244.8 322.8,250.1 326.6,250.1" fill="none" stroke="#000" stroke-width="1.1"/>
<text x="330.5" y="257.5" font-size="20.3">3–hydroxybutyric Acid</text>
<polyline points="312.6,273.6 316.2,273.6 322.8,267.4 326.6,267.4" fill="none" stroke="#000" stroke-width="1.1"/>
<text x="330.5" y="274.8" font-size="20.3">ADP</text>
<polyline points="312.6,283.1 316.2,283.1 322.8,284.8 326.6,284.8" fill="none" stroke="#000" stroke-width="1.1"/>
<text x="330.5" y="292.2" font-size="20.3" font-weight="bold">aKG</text>
<polyline points="312.6,331 316.2,331 322.8,329.3 326.6,329.3" fill="none" stroke="#000" stroke-width="1.1"/>
<text x="330.5" y="336.7" font-size="20.3">Aspartate</text>
<polyline points="312.6,350.2 316.2,350.2 322.8,346.6 326.6,346.6" fill="none" stroke="#000" stroke-width="1.1"/>
<text x="330.5" y="354" font-size="20.3">Butyryl–Carnitine</text>
<polyline points="312.6,359.7 316.2,359.7 322.8,364 326.6,364" fill="none" stroke="#000" stroke-width="1.1"/>
<text x="330.5" y="371.4" font-size="20.3">CDP</text>
<polyline points="312.6,436.3 316.2,436.3 322.8,414.5 326.6,414.5" fill="none" stroke="#000" stroke-width="1.1"/>
<text x="330.5" y="421.9" font-size="20.3">Fumarate</text>
<polyline points="312.6,455.5 316.2,455.5 322.8,431.8 326.6,431.8" fill="none" stroke="#000" stroke-width="1.1"/>
<text x="330.5" y="439.2" font-size="20.3">GLN</text>
<polyline points="312.6,465 316.2,465 322.8,449.2 326.6,449.2" fill="none" stroke="#000" stroke-width="1.1"/>
<text x="330.5" y="456.6" font-size="20.3">GLU</text>
<polyline points="312.6,474.6 316.2,474.6 322.8,466.5 326.6,466.5" fill="none" stroke="#000" stroke-width="1.1"/>
<text x="330.5" y="473.9" font-size="20.3">GSH</text>
<polyline points="312.6,484.2 316.2,484.2 322.8,483.8 326.6,483.8" fill="none" stroke="#000" stroke-width="1.1"/>
<text x="330.5" y="491.2" font-size="20.3">GSSG</text>
<polyline points="312.6,503.3 316.2,503.3 322.8,501.1 326.6,501.1" fill="none" stroke="#000" stroke-width="1.1"/>
<text x="330.5" y="508.5" font-size="20.3">Histidine</text>
<polyline points="312.6,512.9 316.2,512.9 322.8,518.5 326.6,518.5" fill="none" stroke="#000" stroke-width="1.1"/>
<text x="330.5" y="525.9" font-size="20.3">Hydroxy–L–proline</text>
<polyline points="312.6,532.1 316.2,532.1 322.8,535.8 326.6,535.8" fill="none" stroke="#000" stroke-width="1.1"/>
<text x="330.5" y="543.2" font-size="20.3" font-weight="bold">Lactate</text>
<polyline points="312.6,541.6 316.2,541.6 322.8,553.1 326.6,553.1" fill="none" stroke="#000" stroke-width="1.1"/>
<text x="330.5" y="560.5" font-size="20.3">L–Alanine</text>
<polyline points="312.6,551.2 316.2,551.2 322.8,570.5 326.6,570.5" fill="none" stroke="#000" stroke-width="1.1"/>
<text x="330.5" y="577.9" font-size="20.3">Leucine</text>
<polyline points="312.6,570.4 316.2,570.4 322.8,587.8 326.6,587.8" fill="none" stroke="#000" stroke-width="1.1"/>
<text x="330.5" y="595.2" font-size="20.3">L–Sarcosine</text>
<polyline points="312.6,589.5 316.2,589.5 322.8,605.1 326.6,605.1" fill="none" stroke="#000" stroke-width="1.1"/>
<text x="330.5" y="612.5" font-size="20.3">Malate</text>
<polyline points="312.6,599.1 316.2,599.1 322.8,622.5 326.6,622.5" fill="none" stroke="#000" stroke-width="1.1"/>
<text x="330.5" y="629.9" font-size="20.3">Methionine</text>
<polyline points="312.6,694.8 316.2,694.8 322.8,663.4 326.6,663.4" fill="none" stroke="#000" stroke-width="1.1"/>
<text x="330.5" y="670.8" font-size="20.3">Ribose phosphate</text>
<polyline points="312.6,723.5 316.2,723.5 322.8,680.7 326.6,680.7" fill="none" stroke="#000" stroke-width="1.1"/>
<text x="330.5" y="688.1" font-size="20.3">Serine</text>
<polyline points="312.6,733.1 316.2,733.1 322.8,698.1 326.6,698.1" fill="none" stroke="#000" stroke-width="1.1"/>
<text x="330.5" y="705.5" font-size="20.3">Succinic Acid</text>
<polyline points="312.6,742.7 316.2,742.7 322.8,715.4 326.6,715.4" fill="none" stroke="#000" stroke-width="1.1"/>
<text x="330.5" y="722.8" font-size="20.3">Taurine</text>
<polyline points="312.6,752.3 316.2,752.3 322.8,732.7 326.6,732.7" fill="none" stroke="#000" stroke-width="1.1"/>
<text x="330.5" y="740.1" font-size="20.3">Threonine</text>
<polyline points="312.6,790.6 316.2,790.6 322.8,750 326.6,750" fill="none" stroke="#000" stroke-width="1.1"/>
<text x="330.5" y="757.4" font-size="20.3" font-weight="bold">UDP–GlcNAc</text>
<polyline points="312.6,800.1 316.2,800.1 322.8,767.4 326.6,767.4" fill="none" stroke="#000" stroke-width="1.1"/>
<text x="330.5" y="774.8" font-size="20.3">UMP</text>
<polyline points="312.6,809.7 316.2,809.7 322.8,784.7 326.6,784.7" fill="none" stroke="#000" stroke-width="1.1"/>
<text x="330.5" y="792.1" font-size="20.3">UDP–Gal/Glc</text>
<polyline points="312.6,828.9 316.2,828.9 322.8,802 326.6,802" fill="none" stroke="#000" stroke-width="1.1"/>
<text x="330.5" y="809.4" font-size="20.3">Phosphocholine</text>
<polyline points="312.6,838.4 316.2,838.4 322.8,819.4 326.6,819.4" fill="none" stroke="#000" stroke-width="1.1"/>
<text x="330.5" y="826.8" font-size="20.3">Cytidine</text>
<polyline points="312.6,857.6 316.2,857.6 322.8,836.7 326.6,836.7" fill="none" stroke="#000" stroke-width="1.1"/>
<text x="330.5" y="844.1" font-size="20.3">Guanosine</text>
<polyline points="312.6,867.2 316.2,867.2 322.8,854 326.6,854" fill="none" stroke="#000" stroke-width="1.1"/>
<text x="330.5" y="861.4" font-size="20.3">Arachidonic Acid</text>
<polyline points="312.6,876.7 316.2,876.7 322.8,871.4 326.6,871.4" fill="none" stroke="#000" stroke-width="1.1"/>
<text x="330.5" y="878.8" font-size="20.3">Docosahexaenoic Acid</text>
<polyline points="312.6,895.9 316.2,895.9 322.8,888.7 326.6,888.7" fill="none" stroke="#000" stroke-width="1.1"/>
<text x="330.5" y="896.1" font-size="20.3">Eicosapentaenoic Acid</text>
<polyline points="312.6,915 316.2,915 322.8,906 326.6,906" fill="none" stroke="#000" stroke-width="1.1"/>
<text x="330.5" y="913.4" font-size="20.3">Oleic Acid</text>
<polyline points="312.6,924.6 316.2,924.6 322.8,923.4 326.6,923.4" fill="none" stroke="#000" stroke-width="1.1"/>
<text x="330.5" y="930.8" font-size="20.3" font-weight="bold">PEtn</text>
<polyline points="312.6,934.2 316.2,934.2 322.8,940.7 326.6,940.7" fill="none" stroke="#000" stroke-width="1.1"/>
<text x="330.5" y="948.1" font-size="20.3">S7P</text>
<polyline points="312.6,953.3 316.2,953.3 322.8,958 326.6,958" fill="none" stroke="#000" stroke-width="1.1"/>
<text x="330.5" y="965.4" font-size="20.3" font-weight="bold">G3P</text>
<text x="171.5" y="972.5" font-size="20.6" text-anchor="end" transform="rotate(-90 171.5 972.5)">D00</text>
<text x="197.2" y="972.5" font-size="20.6" text-anchor="end" transform="rotate(-90 197.2 972.5)">D0.5</text>
<text x="222.9" y="972.5" font-size="20.6" text-anchor="end" transform="rotate(-90 222.9 972.5)">D01</text>
<text x="248.7" y="972.5" font-size="20.6" text-anchor="end" transform="rotate(-90 248.7 972.5)">D02</text>
<text x="274.4" y="972.5" font-size="20.6" text-anchor="end" transform="rotate(-90 274.4 972.5)">D03</text>
<text x="300.1" y="972.5" font-size="20.6" text-anchor="end" transform="rotate(-90 300.1 972.5)">D04</text>
<text x="523" y="294.9" font-size="23.6" font-weight="bold">Profile</text>
<rect x="523.6" y="309" width="24.4" height="24.4" fill="#A52A2A"/>
<text x="556.5" y="328.6" font-size="20.5">I</text>
<rect x="523.6" y="335.6" width="24.4" height="24.4" fill="#000000"/>
<text x="556.5" y="355.2" font-size="20.5">II</text>
<rect x="523.6" y="362.2" width="24.4" height="24.4" fill="#00FF00"/>
<text x="556.5" y="381.8" font-size="20.5">III</text>
<rect x="523.6" y="388.8" width="24.4" height="24.4" fill="#BEBEBE"/>
<text x="556.5" y="408.4" font-size="20.5">IV</text>
<rect x="523.6" y="415.4" width="24.4" height="24.4" fill="#00FFFF"/>
<text x="556.5" y="435" font-size="20.5">V</text>
<text x="529" y="478" font-size="23.6" font-weight="bold">Z–score</text>
<defs><linearGradient id="zg" x1="0" x2="1" y1="0" y2="0">
<stop offset="0.013" stop-color="#196cb2"/>
<stop offset="0.038" stop-color="#1b6db3"/>
<stop offset="0.064" stop-color="#2773b6"/>
<stop offset="0.089" stop-color="#3378ba"/>
<stop offset="0.114" stop-color="#3f7ebd"/>
<stop offset="0.140" stop-color="#4c84c1"/>
<stop offset="0.165" stop-color="#588ac5"/>
<stop offset="0.190" stop-color="#6492c8"/>
<stop offset="0.216" stop-color="#7099cc"/>
<stop offset="0.241" stop-color="#7da0d0"/>
<stop offset="0.267" stop-color="#89a7d4"/>
<stop offset="0.292" stop-color="#95b0d8"/>
<stop offset="0.317" stop-color="#a2b8dc"/>
<stop offset="0.343" stop-color="#aec1e0"/>
<stop offset="0.368" stop-color="#bacae4"/>
<stop offset="0.393" stop-color="#c7d3e8"/>
<stop offset="0.419" stop-color="#d3dcec"/>
<stop offset="0.444" stop-color="#dfe4f0"/>
<stop offset="0.469" stop-color="#ebedf4"/>
<stop offset="0.495" stop-color="#f7f6f8"/>
<stop offset="0.520" stop-color="#f8edec"/>
<stop offset="0.545" stop-color="#f8e4e0"/>
<stop offset="0.571" stop-color="#f9dad4"/>
<stop offset="0.596" stop-color="#fad1c8"/>
<stop offset="0.621" stop-color="#f9c6bb"/>
<stop offset="0.647" stop-color="#f6b8ac"/>
<stop offset="0.672" stop-color="#f4a99c"/>
<stop offset="0.697" stop-color="#f19b8d"/>
<stop offset="0.723" stop-color="#ee8d7d"/>
<stop offset="0.748" stop-color="#eb7f70"/>
<stop offset="0.773" stop-color="#e77063"/>
<stop offset="0.799" stop-color="#e36256"/>
<stop offset="0.824" stop-color="#df5348"/>
<stop offset="0.849" stop-color="#db453d"/>
<stop offset="0.875" stop-color="#d73636"/>
<stop offset="0.900" stop-color="#d2272f"/>
<stop offset="0.925" stop-color="#cd1828"/>
<stop offset="0.951" stop-color="#c90921"/>
<stop offset="0.976" stop-color="#c80620"/>
</linearGradient></defs>
<rect x="528" y="490.3" width="167" height="28.4" fill="url(#zg)"/>
<line x1="533.5" y1="490.3" x2="533.5" y2="494.5" stroke="#ffffff" stroke-width="1.3"/>
<line x1="533.5" y1="514.5" x2="533.5" y2="518.7" stroke="#ffffff" stroke-width="1.3"/>
<line x1="571.9" y1="490.3" x2="571.9" y2="494.5" stroke="#ffffff" stroke-width="1.3"/>
<line x1="571.9" y1="514.5" x2="571.9" y2="518.7" stroke="#ffffff" stroke-width="1.3"/>
<line x1="610.6" y1="490.3" x2="610.6" y2="494.5" stroke="#ffffff" stroke-width="1.3"/>
<line x1="610.6" y1="514.5" x2="610.6" y2="518.7" stroke="#ffffff" stroke-width="1.3"/>
<line x1="649" y1="490.3" x2="649" y2="494.5" stroke="#ffffff" stroke-width="1.3"/>
<line x1="649" y1="514.5" x2="649" y2="518.7" stroke="#ffffff" stroke-width="1.3"/>
<line x1="687.4" y1="490.3" x2="687.4" y2="494.5" stroke="#ffffff" stroke-width="1.3"/>
<line x1="687.4" y1="514.5" x2="687.4" y2="518.7" stroke="#ffffff" stroke-width="1.3"/>
<text x="533.5" y="541" font-size="21.5" text-anchor="middle">−2</text>
<text x="571.9" y="541" font-size="21.5" text-anchor="middle">−1</text>
<text x="610.6" y="541" font-size="21.5" text-anchor="middle">0</text>
<text x="649" y="541" font-size="21.5" text-anchor="middle">1</text>
<text x="687.4" y="541" font-size="21.5" text-anchor="middle">2</text>
<text x="837.5" y="399.9" font-size="55" font-family="'DejaVu Sans',sans-serif" font-weight="bold">B</text>
<line x1="1146.6" y1="463.2" x2="1962.3" y2="463.2" stroke="#F8766D" stroke-width="5.2"/>
<rect x="1077.1" y="419.1" width="139" height="88.2" rx="40" ry="44" fill="#fff" stroke="#F8766D" stroke-width="5.2"/>
<text x="1146.6" y="477.4" font-size="38" font-family="'DejaVu Sans',sans-serif" text-anchor="middle" fill="#F8766D">D00</text>
<rect x="1240.2" y="419.1" width="139" height="88.2" rx="40" ry="44" fill="#fff" stroke="#F8766D" stroke-width="5.2"/>
<text x="1309.7" y="477.4" font-size="38" font-family="'DejaVu Sans',sans-serif" text-anchor="middle" fill="#F8766D">D01</text>
<rect x="1403.4" y="419.1" width="139" height="88.2" rx="40" ry="44" fill="#fff" stroke="#F8766D" stroke-width="5.2"/>
<text x="1472.9" y="477.4" font-size="38" font-family="'DejaVu Sans',sans-serif" text-anchor="middle" fill="#F8766D">D02</text>
<rect x="1566.5" y="419.1" width="139" height="88.2" rx="40" ry="44" fill="#fff" stroke="#F8766D" stroke-width="5.2"/>
<text x="1636" y="477.4" font-size="38" font-family="'DejaVu Sans',sans-serif" text-anchor="middle" fill="#F8766D">D07</text>
<rect x="1729.7" y="419.1" width="139" height="88.2" rx="40" ry="44" fill="#fff" stroke="#F8766D" stroke-width="5.2"/>
<text x="1799.2" y="477.4" font-size="38" font-family="'DejaVu Sans',sans-serif" text-anchor="middle" fill="#F8766D">D10</text>
<rect x="1892.8" y="419.1" width="139" height="88.2" rx="40" ry="44" fill="#fff" stroke="#F8766D" stroke-width="5.2"/>
<text x="1962.3" y="477.4" font-size="38" font-family="'DejaVu Sans',sans-serif" text-anchor="middle" fill="#F8766D">D14</text>
<line x1="1146.6" y1="577.7" x2="1962.3" y2="577.7" stroke="#A3A500" stroke-width="5.2"/>
<rect x="1077.1" y="533.6" width="139" height="88.2" rx="40" ry="44" fill="#fff" stroke="#A3A500" stroke-width="5.2"/>
<text x="1146.6" y="591.9" font-size="38" font-family="'DejaVu Sans',sans-serif" text-anchor="middle" fill="#A3A500">D00</text>
<rect x="1240.2" y="533.6" width="139" height="88.2" rx="40" ry="44" fill="#fff" stroke="#A3A500" stroke-width="5.2"/>
<text x="1309.7" y="591.9" font-size="38" font-family="'DejaVu Sans',sans-serif" text-anchor="middle" fill="#A3A500">D0.5</text>
<rect x="1403.4" y="533.6" width="139" height="88.2" rx="40" ry="44" fill="#fff" stroke="#A3A500" stroke-width="5.2"/>
<text x="1472.9" y="591.9" font-size="38" font-family="'DejaVu Sans',sans-serif" text-anchor="middle" fill="#A3A500">D01</text>
<rect x="1566.5" y="533.6" width="139" height="88.2" rx="40" ry="44" fill="#fff" stroke="#A3A500" stroke-width="5.2"/>
<text x="1636" y="591.9" font-size="38" font-family="'DejaVu Sans',sans-serif" text-anchor="middle" fill="#A3A500">D02</text>
<rect x="1729.7" y="533.6" width="139" height="88.2" rx="40" ry="44" fill="#fff" stroke="#A3A500" stroke-width="5.2"/>
<text x="1799.2" y="591.9" font-size="38" font-family="'DejaVu Sans',sans-serif" text-anchor="middle" fill="#A3A500">D03</text>
<rect x="1892.8" y="533.6" width="139" height="88.2" rx="40" ry="44" fill="#fff" stroke="#A3A500" stroke-width="5.2"/>
<text x="1962.3" y="591.9" font-size="38" font-family="'DejaVu Sans',sans-serif" text-anchor="middle" fill="#A3A500">D04</text>
<line x1="1146.6" y1="698.5" x2="1962.3" y2="698.5" stroke="#333333" stroke-width="5.2"/>
<rect x="1077.1" y="654.4" width="139" height="88.2" rx="40" ry="44" fill="#fff" stroke="#333333" stroke-width="5.2"/>
<text x="1146.6" y="712.7" font-size="38" font-family="'DejaVu Sans',sans-serif" text-anchor="middle" fill="#333333">D00</text>
<rect x="1240.2" y="654.4" width="139" height="88.2" rx="40" ry="44" fill="#fff" stroke="#333333" stroke-width="5.2"/>
<text x="1309.7" y="712.7" font-size="38" font-family="'DejaVu Sans',sans-serif" text-anchor="middle" fill="#333333">D01</text>
<rect x="1566.5" y="654.4" width="139" height="88.2" rx="40" ry="44" fill="#fff" stroke="#333333" stroke-width="5.2"/>
<text x="1636" y="712.7" font-size="38" font-family="'DejaVu Sans',sans-serif" text-anchor="middle" fill="#333333">D07</text>
<rect x="1892.8" y="654.4" width="139" height="88.2" rx="40" ry="44" fill="#fff" stroke="#333333" stroke-width="5.2"/>
<text x="1962.3" y="712.7" font-size="38" font-family="'DejaVu Sans',sans-serif" text-anchor="middle" fill="#333333">D14</text>
<line x1="1146.6" y1="814" x2="1962.3" y2="814" stroke="#333333" stroke-width="5.2"/>
<rect x="1077.1" y="769.9" width="139" height="88.2" rx="40" ry="44" fill="#fff" stroke="#333333" stroke-width="5.2"/>
<text x="1146.6" y="828.2" font-size="38" font-family="'DejaVu Sans',sans-serif" text-anchor="middle" fill="#333333">D00</text>
<rect x="1240.2" y="769.9" width="139" height="88.2" rx="40" ry="44" fill="#fff" stroke="#333333" stroke-width="5.2"/>
<text x="1309.7" y="828.2" font-size="38" font-family="'DejaVu Sans',sans-serif" text-anchor="middle" fill="#333333">D0.5</text>
<rect x="1566.5" y="769.9" width="139" height="88.2" rx="40" ry="44" fill="#fff" stroke="#333333" stroke-width="5.2"/>
<text x="1636" y="828.2" font-size="38" font-family="'DejaVu Sans',sans-serif" text-anchor="middle" fill="#333333">D02</text>
<rect x="1892.8" y="769.9" width="139" height="88.2" rx="40" ry="44" fill="#fff" stroke="#333333" stroke-width="5.2"/>
<text x="1962.3" y="828.2" font-size="38" font-family="'DejaVu Sans',sans-serif" text-anchor="middle" fill="#333333">D04</text>
<text x="951" y="472" font-size="38" font-family="'DejaVu Sans',sans-serif" text-anchor="middle" fill="#F8766D">DDIS</text>
<text x="951" y="591.5" font-size="38" font-family="'DejaVu Sans',sans-serif" text-anchor="middle" fill="#A3A500">Q</text>
<text x="952" y="692.9" font-size="37.2" font-family="'DejaVu Sans',sans-serif" text-anchor="middle" fill="#333333">VALIDATION</text>
<text x="952" y="738" font-size="37.2" font-family="'DejaVu Sans',sans-serif" text-anchor="middle" fill="#333333">DDIS</text>
<text x="952" y="807.5" font-size="37.2" font-family="'DejaVu Sans',sans-serif" text-anchor="middle" fill="#333333">VALIDATION</text>
<text x="952" y="851.5" font-size="37.2" font-family="'DejaVu Sans',sans-serif" text-anchor="middle" fill="#333333">Q</text>
<text x="-3" y="1149" font-size="56" font-family="'DejaVu Sans',sans-serif" font-weight="bold">C</text>
<line x1="107" y1="1168" x2="107" y2="1535.4" stroke="#EBEBEB" stroke-width="1"/>
<line x1="254" y1="1168" x2="254" y2="1535.4" stroke="#EBEBEB" stroke-width="1"/>
<line x1="395.3" y1="1168" x2="395.3" y2="1535.4" stroke="#EBEBEB" stroke-width="1"/>
<line x1="536.3" y1="1168" x2="536.3" y2="1535.4" stroke="#EBEBEB" stroke-width="1"/>
<line x1="95.9" y1="1219.5" x2="558.1" y2="1219.5" stroke="#EBEBEB" stroke-width="1"/>
<line x1="95.9" y1="1290.4" x2="558.1" y2="1290.4" stroke="#EBEBEB" stroke-width="1"/>
<line x1="95.9" y1="1361.2" x2="558.1" y2="1361.2" stroke="#EBEBEB" stroke-width="1"/>
<line x1="95.9" y1="1432.1" x2="558.1" y2="1432.1" stroke="#EBEBEB" stroke-width="1"/>
<line x1="95.9" y1="1502.9" x2="558.1" y2="1502.9" stroke="#EBEBEB" stroke-width="1"/>
<line x1="180.3" y1="1168" x2="180.3" y2="1535.4" stroke="#EBEBEB" stroke-width="1.9"/>
<line x1="328.1" y1="1168" x2="328.1" y2="1535.4" stroke="#EBEBEB" stroke-width="1.9"/>
<line x1="463" y1="1168" x2="463" y2="1535.4" stroke="#EBEBEB" stroke-width="1.9"/>
<line x1="95.9" y1="1184.1" x2="558.1" y2="1184.1" stroke="#EBEBEB" stroke-width="1.9"/>
<line x1="95.9" y1="1254.9" x2="558.1" y2="1254.9" stroke="#EBEBEB" stroke-width="1.9"/>
<line x1="95.9" y1="1325.8" x2="558.1" y2="1325.8" stroke="#EBEBEB" stroke-width="1.9"/>
<line x1="95.9" y1="1396.6" x2="558.1" y2="1396.6" stroke="#EBEBEB" stroke-width="1.9"/>
<line x1="95.9" y1="1467.5" x2="558.1" y2="1467.5" stroke="#EBEBEB" stroke-width="1.9"/>
<text x="87.1" y="1189.9" font-size="16.2" text-anchor="end" fill="#4D4D4D">0.0275</text>
<text x="87.1" y="1260.7" font-size="16.2" text-anchor="end" fill="#4D4D4D">0.0250</text>
<text x="87.1" y="1331.6" font-size="16.2" text-anchor="end" fill="#4D4D4D">0.0225</text>
<text x="87.1" y="1402.4" font-size="16.2" text-anchor="end" fill="#4D4D4D">0.0200</text>
<text x="87.1" y="1473.3" font-size="16.2" text-anchor="end" fill="#4D4D4D">0.0175</text>
<text x="180.3" y="1555.5" font-size="16.2" text-anchor="middle" fill="#4D4D4D">3</text>
<text x="328.1" y="1555.5" font-size="16.2" text-anchor="middle" fill="#4D4D4D">10</text>
<text x="463" y="1555.5" font-size="16.2" text-anchor="middle" fill="#4D4D4D">30</text>
<text x="332.7" y="1578.4" font-size="22" text-anchor="middle">Repeatability</text>
<text x="30.5" y="1352" font-size="22" text-anchor="middle" transform="rotate(-90 30.5 1352)">RSD</text>
<circle cx="117.2" cy="1184.1" r="10.9" fill="#000000"/>
<circle cx="156.7" cy="1339.4" r="10.9" fill="#E69F00"/>
<circle cx="180.3" cy="1314.7" r="10.9" fill="#56B4E9"/>
<circle cx="189.3" cy="1307.2" r="10.9" fill="#F0E442"/>
<circle cx="177.8" cy="1348.3" r="10.9" fill="#009E73"/>
<circle cx="536.3" cy="1517.2" r="10.9" fill="#0072B2"/>
<text x="596" y="1147.2" font-size="56" font-family="'DejaVu Sans',sans-serif" font-weight="bold">D</text>
<line x1="734.2" y1="1168" x2="734.2" y2="1535.4" stroke="#EBEBEB" stroke-width="1"/>
<line x1="895.2" y1="1168" x2="895.2" y2="1535.4" stroke="#EBEBEB" stroke-width="1"/>
<line x1="1055.8" y1="1168" x2="1055.8" y2="1535.4" stroke="#EBEBEB" stroke-width="1"/>
<line x1="697.3" y1="1219.5" x2="1158.9" y2="1219.5" stroke="#EBEBEB" stroke-width="1"/>
<line x1="697.3" y1="1290.4" x2="1158.9" y2="1290.4" stroke="#EBEBEB" stroke-width="1"/>
<line x1="697.3" y1="1361.2" x2="1158.9" y2="1361.2" stroke="#EBEBEB" stroke-width="1"/>
<line x1="697.3" y1="1432.1" x2="1158.9" y2="1432.1" stroke="#EBEBEB" stroke-width="1"/>
<line x1="697.3" y1="1502.9" x2="1158.9" y2="1502.9" stroke="#EBEBEB" stroke-width="1"/>
<line x1="814.7" y1="1168" x2="814.7" y2="1535.4" stroke="#EBEBEB" stroke-width="1.9"/>
<line x1="975.3" y1="1168" x2="975.3" y2="1535.4" stroke="#EBEBEB" stroke-width="1.9"/>
<line x1="1136.3" y1="1168" x2="1136.3" y2="1535.4" stroke="#EBEBEB" stroke-width="1.9"/>
<line x1="697.3" y1="1184.1" x2="1158.9" y2="1184.1" stroke="#EBEBEB" stroke-width="1.9"/>
<line x1="697.3" y1="1254.9" x2="1158.9" y2="1254.9" stroke="#EBEBEB" stroke-width="1.9"/>
<line x1="697.3" y1="1325.8" x2="1158.9" y2="1325.8" stroke="#EBEBEB" stroke-width="1.9"/>
<line x1="697.3" y1="1396.6" x2="1158.9" y2="1396.6" stroke="#EBEBEB" stroke-width="1.9"/>
<line x1="697.3" y1="1467.5" x2="1158.9" y2="1467.5" stroke="#EBEBEB" stroke-width="1.9"/>
<text x="688.4" y="1189.9" font-size="16.2" text-anchor="end" fill="#4D4D4D">0.0275</text>
<text x="688.4" y="1260.7" font-size="16.2" text-anchor="end" fill="#4D4D4D">0.0250</text>
<text x="688.4" y="1331.6" font-size="16.2" text-anchor="end" fill="#4D4D4D">0.0225</text>
<text x="688.4" y="1402.4" font-size="16.2" text-anchor="end" fill="#4D4D4D">0.0200</text>
<text x="688.4" y="1473.3" font-size="16.2" text-anchor="end" fill="#4D4D4D">0.0175</text>
<text x="814.7" y="1555.5" font-size="16.2" text-anchor="middle" fill="#4D4D4D">100</text>
<text x="975.3" y="1555.5" font-size="16.2" text-anchor="middle" fill="#4D4D4D">1000</text>
<text x="1136.3" y="1555.5" font-size="16.2" text-anchor="middle" fill="#4D4D4D">10000</text>
<text x="938.8" y="1578.4" font-size="22" text-anchor="middle">Bhattacharyya distance</text>
<text x="631.5" y="1352" font-size="22" text-anchor="middle" transform="rotate(-90 631.5 1352)">RSD</text>
<circle cx="718.1" cy="1517.5" r="10.9" fill="#0072B2"/>
<circle cx="728.5" cy="1348.3" r="10.9" fill="#009E73"/>
<circle cx="778.5" cy="1314.7" r="10.9" fill="#56B4E9"/>
<circle cx="922.4" cy="1307.2" r="10.9" fill="#F0E442"/>
<circle cx="1075.5" cy="1184.1" r="10.9" fill="#000000"/>
<circle cx="1137.4" cy="1339.4" r="10.9" fill="#E69F00"/>
<text x="1183.5" y="1148" font-size="56" font-family="'DejaVu Sans',sans-serif" font-weight="bold">E</text>
<line x1="1297.7" y1="1168" x2="1297.7" y2="1535.4" stroke="#EBEBEB" stroke-width="1"/>
<line x1="1469.5" y1="1168" x2="1469.5" y2="1535.4" stroke="#EBEBEB" stroke-width="1"/>
<line x1="1641.2" y1="1168" x2="1641.2" y2="1535.4" stroke="#EBEBEB" stroke-width="1"/>
<line x1="1256.9" y1="1184.1" x2="1751.4" y2="1184.1" stroke="#EBEBEB" stroke-width="1"/>
<line x1="1256.9" y1="1296.4" x2="1751.4" y2="1296.4" stroke="#EBEBEB" stroke-width="1"/>
<line x1="1256.9" y1="1408" x2="1751.4" y2="1408" stroke="#EBEBEB" stroke-width="1"/>
<line x1="1256.9" y1="1525.4" x2="1751.4" y2="1525.4" stroke="#EBEBEB" stroke-width="1"/>
<line x1="1383.6" y1="1168" x2="1383.6" y2="1535.4" stroke="#EBEBEB" stroke-width="1.9"/>
<line x1="1555.3" y1="1168" x2="1555.3" y2="1535.4" stroke="#EBEBEB" stroke-width="1.9"/>
<line x1="1727" y1="1168" x2="1727" y2="1535.4" stroke="#EBEBEB" stroke-width="1.9"/>
<line x1="1256.9" y1="1243.1" x2="1751.4" y2="1243.1" stroke="#EBEBEB" stroke-width="1.9"/>
<line x1="1256.9" y1="1350.1" x2="1751.4" y2="1350.1" stroke="#EBEBEB" stroke-width="1.9"/>
<line x1="1256.9" y1="1467.1" x2="1751.4" y2="1467.1" stroke="#EBEBEB" stroke-width="1.9"/>
<text x="1249.4" y="1248.9" font-size="16.2" text-anchor="end" fill="#4D4D4D">30</text>
<text x="1249.4" y="1355.9" font-size="16.2" text-anchor="end" fill="#4D4D4D">10</text>
<text x="1249.4" y="1472.9" font-size="16.2" text-anchor="end" fill="#4D4D4D">3</text>
<text x="1383.6" y="1555.5" font-size="16.2" text-anchor="middle" fill="#4D4D4D">100</text>
<text x="1555.3" y="1555.5" font-size="16.2" text-anchor="middle" fill="#4D4D4D">1000</text>
<text x="1727" y="1555.5" font-size="16.2" text-anchor="middle" fill="#4D4D4D">10000</text>
<text x="1515.3" y="1578.4" font-size="22" text-anchor="middle">Bhattacharyya distance</text>
<text x="1223.5" y="1358.3" font-size="22" text-anchor="middle" transform="rotate(-90 1223.5 1358.3)">Repeatability</text>
<circle cx="1280.9" cy="1184.1" r="10.9" fill="#0072B2"/>
<circle cx="1291.6" cy="1469.2" r="10.9" fill="#009E73"/>
<circle cx="1345" cy="1467.1" r="10.9" fill="#56B4E9"/>
<circle cx="1498.1" cy="1460.3" r="10.9" fill="#F0E442"/>
<circle cx="1728.1" cy="1486" r="10.9" fill="#E69F00"/>
<circle cx="1662.3" cy="1517.5" r="10.9" fill="#000000"/>
<text x="1770.9" y="1178.7" font-size="25.5">BC method</text>
<circle cx="1791.9" cy="1217.8" r="15.1" fill="#000000"/>
<text x="1824" y="1222.2" font-size="20.8">SDC</text>
<circle cx="1791.9" cy="1258.5" r="15.1" fill="#E69F00"/>
<text x="1824" y="1262.9" font-size="20.8">QN</text>
<circle cx="1791.9" cy="1299.1" r="15.1" fill="#56B4E9"/>
<text x="1824" y="1303.5" font-size="20.8">Average – all samples</text>
<circle cx="1791.9" cy="1339.8" r="15.1" fill="#009E73"/>
<text x="1824" y="1344.2" font-size="20.8">Average – D00 samples</text>
<circle cx="1791.9" cy="1380.4" r="15.1" fill="#F0E442"/>
<text x="1824" y="1384.8" font-size="20.8">Average – pool samples</text>
<circle cx="1791.9" cy="1421" r="15.1" fill="#0072B2"/>
<text x="1824" y="1425.5" font-size="20.8">QN + ComBat</text>
<text x="9" y="1647.6" font-size="56" font-family="'DejaVu Sans',sans-serif" font-weight="bold">F</text>
<line x1="164.6" y1="1664.4" x2="164.6" y2="2075.8" stroke="#EBEBEB" stroke-width="1"/>
<line x1="284.4" y1="1664.4" x2="284.4" y2="2075.8" stroke="#EBEBEB" stroke-width="1"/>
<line x1="404.3" y1="1664.4" x2="404.3" y2="2075.8" stroke="#EBEBEB" stroke-width="1"/>
<line x1="524.9" y1="1664.4" x2="524.9" y2="2075.8" stroke="#EBEBEB" stroke-width="1"/>
<line x1="87.7" y1="1740.8" x2="576.7" y2="1740.8" stroke="#EBEBEB" stroke-width="1"/>
<line x1="87.7" y1="1833.3" x2="576.7" y2="1833.3" stroke="#EBEBEB" stroke-width="1"/>
<line x1="87.7" y1="1926" x2="576.7" y2="1926" stroke="#EBEBEB" stroke-width="1"/>
<line x1="87.7" y1="2018.3" x2="576.7" y2="2018.3" stroke="#EBEBEB" stroke-width="1"/>
<line x1="104.5" y1="1664.4" x2="104.5" y2="2075.8" stroke="#EBEBEB" stroke-width="1.9"/>
<line x1="224.7" y1="1664.4" x2="224.7" y2="2075.8" stroke="#EBEBEB" stroke-width="1.9"/>
<line x1="344.5" y1="1664.4" x2="344.5" y2="2075.8" stroke="#EBEBEB" stroke-width="1.9"/>
<line x1="464.4" y1="1664.4" x2="464.4" y2="2075.8" stroke="#EBEBEB" stroke-width="1.9"/>
<line x1="87.7" y1="1694.8" x2="576.7" y2="1694.8" stroke="#EBEBEB" stroke-width="1.9"/>
<line x1="87.7" y1="1786.8" x2="576.7" y2="1786.8" stroke="#EBEBEB" stroke-width="1.9"/>
<line x1="87.7" y1="1879.8" x2="576.7" y2="1879.8" stroke="#EBEBEB" stroke-width="1.9"/>
<line x1="87.7" y1="1972.1" x2="576.7" y2="1972.1" stroke="#EBEBEB" stroke-width="1.9"/>
<line x1="87.7" y1="2064.4" x2="576.7" y2="2064.4" stroke="#EBEBEB" stroke-width="1.9"/>
<text x="77.6" y="1700.6" font-size="16.2" text-anchor="end" fill="#4D4D4D">0.100</text>
<text x="77.6" y="1792.6" font-size="16.2" text-anchor="end" fill="#4D4D4D">0.075</text>
<text x="77.6" y="1885.6" font-size="16.2" text-anchor="end" fill="#4D4D4D">0.050</text>
<text x="77.6" y="1977.9" font-size="16.2" text-anchor="end" fill="#4D4D4D">0.025</text>
<text x="77.6" y="2070.2" font-size="16.2" text-anchor="end" fill="#4D4D4D">0.000</text>
<text x="104.5" y="2102" font-size="16.2" text-anchor="middle" fill="#4D4D4D">0.00</text>
<text x="224.7" y="2102" font-size="16.2" text-anchor="middle" fill="#4D4D4D">0.02</text>
<text x="344.5" y="2102" font-size="16.2" text-anchor="middle" fill="#4D4D4D">0.04</text>
<text x="464.4" y="2102" font-size="16.2" text-anchor="middle" fill="#4D4D4D">0.06</text>
<text x="338.9" y="2125.5" font-size="22" text-anchor="middle">QN + ComBat RSD</text>
<text x="26.5" y="1870" font-size="22" text-anchor="middle" transform="rotate(-90 26.5 1870)">RSD</text>
<path d="M255.2 1833h0M251.3 1811.6h0M404 1838.7h0M359.1 1812.2h0M412.7 1839.3h0M412 1856.1h0M375.5 1829.9h0M504.8 1747.5h0M474.2 1817.5h0M455.5 1741h0M533.5 1729.9h0M547.3 1722.5h0M443.5 1755.8h0M485.5 1813.1h0M449.5 1794.6h0M287.6 1867.4h0M254 1884h0M347.7 1905.3h0M315 1868.7h0M358.9 1866.8h0M350.2 1894.3h0M355.6 1841.4h0M328.1 1867.9h0M348.3 1858.7h0M285.7 1863.6h0M236.5 1885.2h0M371.1 1865.3h0M353.8 1882.1h0M277.1 1855.7h0M354.4 1843.4h0M308.1 1871.6h0M324.6 1870.8h0M394.4 1868.5h0M361.4 1859.2h0M261.8 1858.7h0M274.3 1873.9h0M356.3 1859.8h0M366.8 1848.6h0M325.5 1877.3h0M364.1 1891h0M291.2 1854.1h0M275.2 1868.2h0M352.5 1855.8h0M281 1868.1h0M294.5 1867.6h0M291.2 1854.2h0M352.6 1883.3h0M337.8 1866.2h0M391.4 1860.4h0M358.6 1859.8h0M254.5 1883.8h0M359.7 1881.7h0M329.8 1877.5h0M345.5 1882h0M357.3 1895h0M238.4 1879.2h0M360.9 1862.2h0M358.4 1868.2h0M347.4 1883.7h0M372.4 1885.5h0M385.7 1883.7h0M396.8 1863.7h0M353.4 1863.5h0M358.6 1894.2h0M395.5 1882.7h0M349.6 1874.9h0M374.1 1873.2h0M367.6 1887.1h0M390.8 1880.9h0M351.4 1902.5h0M398.7 1861.1h0M385.8 1878h0M343.1 1867.3h0M350.4 1893.1h0M352.7 1860.9h0M353.2 1896h0M370 1889.4h0M367.9 1868.2h0M342.5 1871.7h0M377.1 1876.6h0M368.4 1888.1h0M359 1876h0M393 1886.1h0M365 1884.3h0M367.6 1875h0M394.8 1870.5h0M396.2 1898.4h0M392.9 1867.3h0M357.3 1867.7h0M383.4 1870.6h0M375 1867.1h0M396.8 1872.8h0M345.8 1890.9h0M360.8 1885.2h0M369.8 1901.5h0M370.9 1877.1h0M356.1 1885.8h0M377.9 1880.8h0M345.4 1882.4h0M368.9 1888.9h0M398.2 1872.6h0M106.8 1998h0M106.3 1981.3h0M104.2 2003.6h0M105.4 1971h0M104.3 2007.2h0M107.8 2045.1h0M104.1 1997.1h0M105.5 1996.6h0M104.5 2022.3h0M107.4 2003.1h0M104.7 1977.7h0M104.1 2038.4h0" stroke="#E69F00" stroke-width="7.8" stroke-linecap="round" stroke-opacity="0.85" fill="none"/>
<path d="M330.8 1833.8h0M317.5 1838h0M303.3 1817.6h0M303.5 1823.1h0M404 1833.2h0M265.1 1827.5h0M417.1 1845.8h0M307 1820.4h0M413.5 1828.3h0M411.4 1845.1h0M412.1 1850.6h0M429.9 1791.7h0M500.6 1749.7h0M493.9 1872h0M493.9 1877.5h0M422.9 1825.4h0M423.3 1830.9h0M530.1 1867.3h0M505.8 1742h0M517.7 1804.2h0M440.8 1821.8h0M240.9 1870.7h0M191.4 1905.5h0M147.7 1885h0M182 1891h0M323.5 1729.9h0M443.5 1737.3h0M547.3 1763.2h0M533.5 1770.6h0M380.5 1750.2h0M419.5 1774.3h0M419.5 1779.8h0M455.5 1783.5h0M377.5 1785.4h0M251.5 1820.5h0M449.5 1903.6h0M203.5 1855.6h0M155.5 1877.8h0M307.4 1860.1h0M368.8 1845.6h0M249.5 1870.5h0M359.9 1895.1h0M360.7 1839.8h0M355.7 1871.6h0M361.7 1850.4h0M320.2 1841.5h0M324.6 1872.8h0M371.6 1840.9h0M230.6 1884.2h0M355.3 1889.8h0M377.4 1903.5h0M287.7 1877h0M315.9 1856h0M224.2 1888.8h0M268.7 1877.7h0M285.3 1861.6h0M271.2 1862.2h0M345.4 1905.8h0M344.7 1908.6h0M365.3 1872.5h0M348.8 1867.9h0M287.2 1859.5h0M370.9 1899.7h0M309.7 1845.1h0M324.9 1846.9h0M342.7 1883.4h0M242.7 1884h0M346.6 1870.6h0M124.2 1940.8h0M168.5 1912.1h0M136.7 1934.6h0M171.4 1906.4h0M179.3 1900.2h0M156.3 1919.2h0M152.4 1924.9h0M147 1916.9h0M162.2 1916h0M190.6 1898.1h0M135.6 1934.9h0M205.5 1891.7h0M131.3 1933.1h0M156 1919.7h0M180.1 1912.8h0M133 1926.5h0M116.9 1939.9h0M127.4 1945.4h0M122.7 1933.6h0M117.9 1940.7h0M114.7 1915.8h0M127.6 1913.9h0M127.9 1919.2h0M106.3 1940.6h0M118.6 1924.3h0M131.6 1919.3h0M123.7 1912h0M122.9 1925.3h0M119.6 1915.6h0M130.1 1921.4h0M121 1925.1h0M109.9 1948.2h0M127 1926.2h0M117.2 1945.6h0M126.1 1933h0M109.9 1952.6h0M119.4 1942.8h0M115.6 1927.9h0M122.6 1914.9h0M125.4 1940.3h0M122.8 1949.6h0M123.8 1928.2h0M116.9 1927.8h0M123.8 1927h0M115.2 1953.7h0M128.2 1944.5h0M129.5 1928.8h0M123.6 1921.6h0M114.1 1913.4h0M113.8 1928.4h0M108.4 1915.7h0M107.4 1921.7h0M127 1920.2h0M130.5 1927.1h0M118.7 1918.9h0M113.4 1930.9h0M113.1 1947.4h0M128.3 1925.6h0M110.6 1914.5h0M107.2 1950.8h0M118.1 1940.3h0M117.2 1927.1h0M121.7 1914.8h0M121.2 1913.3h0M107.7 1930.2h0M123.7 1933.5h0M127.6 1944.1h0M109.6 1936.6h0M117 1935.8h0M125.7 1945.2h0M121.5 1950.6h0M109.7 1959.8h0M114 1931.7h0M118.5 1938.5h0" stroke="#000000" stroke-width="7.8" stroke-linecap="round" stroke-opacity="0.85" fill="none"/>
<path d="M296.1 1848.8h0M513.1 1802.9h0M247.1 1899.1h0M137.8 1891h0M159.2 1884.2h0M148 1879.5h0M208.5 1856.2h0M425.5 1733.6h0M284.5 1809.4h0M383.5 1798.3h0M167.5 1863h0M251.5 1883h0M320.5 1876h0M364.3 1898.4h0M343.4 1882.3h0M391 1877.7h0M378.2 1862.9h0M351.5 1878h0M277.8 1855.3h0M283.4 1857.2h0M381.8 1883.8h0M370.3 1874.9h0M296.1 1857.4h0M305.1 1860h0M314.4 1858.3h0M116.1 1952.5h0M198.4 1902.1h0" stroke="#56B4E9" stroke-width="7.8" stroke-linecap="round" stroke-opacity="0.85" fill="none"/>
<path d="M327.1 1831.5h0M404.7 1827.7h0M412.7 1833.8h0M499.6 1755.2h0M439.6 1827.3h0M354.2 1895.5h0M419.4 1912.6h0M435.4 1948.2h0M373.1 1956.2h0M323.5 1744.7h0M407.5 1970.2h0M485.5 1863h0M266.8 1872h0M364 1866.8h0M245.3 1871.9h0M303.3 1855.9h0M284.4 1856.6h0M366 1841.8h0M255.8 1886.3h0M276.3 1866.4h0M321.4 1841.8h0M343 1859.4h0M325.6 1849.2h0M356.2 1904.4h0M389.8 1850.9h0M331.5 1857.6h0M362.1 1854.7h0M323 1885h0M348.1 1875.6h0M368.2 1896.1h0M260.2 1873.2h0M257.4 1880.1h0M322.2 1854.4h0M387.7 1871.2h0M284.8 1847.7h0M274.8 1875.1h0M290.1 1864.1h0M359.4 1852.1h0M293.1 1860.4h0M352.4 1849.5h0M338.4 1864.7h0M313 1879.1h0M378.7 1885.3h0M350 1871.5h0M319 1876.6h0M164.3 1916.2h0M179 1901h0M193.2 1907h0M184.1 1903.9h0M112.4 1953.3h0M114.6 1950.8h0" stroke="#009E73" stroke-width="7.8" stroke-linecap="round" stroke-opacity="0.85" fill="none"/>
<path d="M387.9 1837.1h0M317.4 1827h0M317.4 1832.5h0M255.5 1827.5h0M285 1834.7h0M372 1810.9h0M532.1 1872.8h0M552.7 1734.5h0M551.6 1740h0M356.6 1969.3h0M424.6 1944.5h0M545.5 1792.7h0M449.5 1909.2h0M373.9 1904.4h0M381.9 1853.7h0M377.1 1868h0M389.1 1896.9h0M373.7 1866.8h0M339.2 1883.4h0M403.6 1879.2h0M372.7 1841.8h0M247.1 1873.7h0M317.2 1881.4h0M317.5 1845.4h0M366.5 1876.3h0M357.9 1854.1h0M267.1 1868.3h0M287.1 1872.4h0M360 1899.7h0M372.6 1883.4h0M372.7 1864h0M371.4 1859.2h0M370.2 1877.1h0M377.9 1878.8h0M371.2 1868h0M374.2 1872.4h0M317.4 1875.2h0M401.3 1880.6h0M275 1859.6h0M357.4 1861h0M249.3 1866.6h0M375.7 1882.5h0M283.1 1874h0M354.2 1899.5h0M284.8 1871.2h0M261.2 1879.6h0M339.8 1838.9h0M330.3 1841.3h0M238.3 1876.9h0M387.4 1880.8h0M268.3 1884.6h0M367.5 1875.3h0M341.4 1840.4h0M250 1877.8h0M354.2 1856.4h0M293.4 1865.4h0M290.7 1863.7h0M250.5 1871.7h0M321.4 1883.5h0M403.9 1861.3h0M389 1859.5h0M308.9 1867.5h0M372.2 1866.1h0M400.3 1866.6h0M282.7 1868.7h0M349.2 1870.4h0M344.4 1867.9h0M384.5 1890.1h0M383.6 1850.9h0M368.3 1873.3h0M383.5 1899.4h0M280.6 1860h0M332.2 1888.8h0M260.1 1880h0M296.4 1862h0M336.1 1892.4h0M126.6 1930.6h0M119.4 1946.4h0M165.6 1904.2h0M122.7 1950.7h0M169.6 1914.5h0M156.2 1922.1h0M112.9 1946.6h0M149.7 1928.3h0M168.5 1912.1h0M208.9 1892.3h0M124.9 1945.3h0" stroke="#1BA58A" stroke-width="7.8" stroke-linecap="round" stroke-opacity="0.85" fill="none"/>
<path d="M326.6 1837h0M250.7 1822.6h0M299.9 1810.8h0M265.1 1822h0M260.5 1841.5h0M418.2 1840.3h0M296.4 1859.8h0M354.1 1838.5h0M375.4 1824.4h0M261.9 1816.9h0M518 1798.7h0M448.6 1794.6h0M424.5 1922.5h0M423.7 1928h0M379.1 1965.9h0M377.5 1957.3h0M437.9 1899.8h0M373.5 1950.7h0M398.9 1970.5h0M356.9 1974.8h0M383 1938.3h0M384.2 1943.8h0M166.3 1896.4h0M158.7 1878.7h0M247.5 1872h0M401.5 1698.5h0M323.5 1739.2h0M533.5 1824.2h0M547.3 1824.9h0M357.7 1909.2h0M404.5 1973.8h0M353.5 1984.9h0M467.5 1896.2h0M437.5 1820.5h0M251.5 1827.9h0M539.5 1789h0M348.7 1860.5h0M234.6 1891.5h0M238.1 1874.8h0M380.8 1882.5h0M359.2 1897.6h0M351.4 1900.2h0M337.4 1866.7h0M344.6 1861.7h0M343.3 1879.3h0M334.6 1892.1h0M264.3 1866.5h0M333.8 1840.4h0M399.3 1868h0M285.7 1857.7h0M342.4 1878.6h0M332.3 1844.7h0M336.4 1870.6h0M367.7 1883.5h0M330 1884.1h0M230.9 1887.4h0M255.3 1862.1h0M364.7 1852.2h0M297.2 1855.6h0M277.8 1877.7h0M360.2 1906h0M353 1879.3h0M262.7 1863.5h0M403.4 1885.5h0M341.2 1854.7h0M291.3 1861.7h0M310.8 1876.8h0M381.3 1897.2h0M296.4 1847.1h0M330.6 1853h0M393.2 1862h0M308.6 1852.8h0M266.2 1876.6h0M379.9 1898.5h0M368.7 1867.7h0M376.6 1885.7h0M334.7 1858.1h0M272.4 1861.6h0M399.2 1878.8h0M376.1 1843h0M346.8 1889.8h0M289.6 1861.2h0M241.8 1890.2h0M407.4 1875.2h0M336.9 1851h0M320.5 1878.6h0M323.8 1856.1h0M376.8 1850.1h0M253.1 1871.6h0M402 1881.6h0M306.1 1867.3h0M336.3 1888.4h0M294.2 1869h0M317.1 1875.9h0M317.1 1854.2h0M274 1866.1h0M344.5 1901.9h0M306.6 1849.1h0M253.6 1884.1h0M350.4 1907.3h0M344.3 1896.1h0M312 1849.7h0M333.2 1853.9h0M331 1890.3h0M265.9 1880.7h0M245.3 1888.5h0M285.4 1852.4h0M388.5 1846.8h0M256.2 1862.4h0M383.1 1851.5h0M349.5 1863.6h0M315.8 1840.2h0M320.6 1846.3h0M405.2 1858.7h0M384.2 1853.8h0M297.8 1865.8h0M246.7 1886.6h0M243.6 1880.3h0M351.2 1837.8h0M328.8 1871.6h0M337 1883.2h0M386.4 1865h0M240.6 1874.5h0M347.3 1853.8h0M263.8 1874.6h0M370.1 1865.8h0M354.3 1855.1h0M354.3 1860.8h0M379.2 1899h0M376.9 1896.9h0M335.1 1894.2h0M406.3 1865.6h0M350 1877.5h0M369.3 1891.9h0M376.2 1894.3h0M352.2 1855h0M327.1 1853.3h0M359.7 1877.5h0M257 1867h0M399.7 1860.5h0M331.7 1879.5h0M330.3 1881.2h0M398.4 1882.4h0M358.3 1863.4h0M294.2 1870.7h0M408.6 1866h0M246.7 1885.3h0M142.8 1923.7h0M139.4 1925.2h0M180.1 1906.4h0M158.7 1913.3h0M161.9 1917.9h0M164 1911.4h0M140.4 1931.3h0M125.5 1945.3h0M189.3 1904.2h0M112.4 1948.5h0M213 1897.7h0M135.4 1919.6h0M190.9 1894.3h0M214.5 1898.9h0M176.9 1909.8h0M121.3 1933.2h0M126.9 1929.5h0M169.5 1921.8h0M147.4 1913.2h0M131.2 1941.1h0" stroke="#A8CF55" stroke-width="7.8" stroke-linecap="round" stroke-opacity="0.85" fill="none"/>
<path d="M251.9 1817.1h0M296 1854.3h0M492.6 1883h0M483.4 1785.2h0M505.5 1753h0M505 1802.1h0M439.6 1832.8h0M474.2 1823h0M354.1 1901h0M379.7 1960.4h0M246.5 1904.6h0M189.9 1900h0M248.6 1866.5h0M427.3 1702.2h0M551.5 1774.3h0M338.5 1739.2h0M167.5 1846.3h0M319.6 1867.4h0M317.9 1869.2h0M317.8 1848.1h0M339.1 1876.3h0M390.9 1860h0M388 1846.2h0M322.1 1875.1h0M325.5 1847.1h0M278.1 1871.5h0M352.1 1901.4h0M331.5 1874.3h0M281 1871.6h0M318.5 1865.6h0M351.4 1893.9h0M321.8 1874.6h0M331.1 1893.7h0M298.2 1872.3h0M348.3 1878.9h0M336.2 1843.8h0M321.9 1884h0M297.8 1864.1h0M356.1 1888.7h0M393 1869.3h0M291.5 1865.5h0M252.2 1878.8h0M386.7 1857.4h0M320.7 1879.1h0M358.5 1904.3h0M403.8 1887.1h0M393.3 1867.2h0M375.9 1886.7h0M401.7 1884.7h0M287.6 1848.7h0M254.1 1868.3h0M366.1 1849.6h0M275.1 1877.7h0M342.9 1854.1h0M384.4 1875.2h0M382 1859.1h0M376 1851.8h0M353.2 1854h0M370.7 1851.7h0M355.9 1861.2h0M378 1881h0M314.3 1885.2h0M327 1889h0M374.2 1881.7h0M345.6 1892.1h0M325.3 1861.2h0M345.5 1847h0M362.6 1893.1h0M378.3 1901h0M357.5 1881.4h0M312.5 1866.2h0M389.4 1898h0M291.9 1863.1h0M328.8 1839.5h0M306.6 1851.7h0M353.8 1846.3h0M257.8 1859.3h0M353.3 1850.9h0M258.9 1858.9h0M395.6 1886.7h0M300.3 1876.2h0M318 1839.4h0M299.2 1869.6h0M369.2 1854.1h0M335.8 1875.9h0M376.9 1895.8h0M291 1858.7h0M363.6 1891.8h0M406.3 1882.4h0M383.4 1880.9h0M256 1871.5h0M274.5 1870h0M397.6 1863.3h0M277.1 1865.2h0M330.7 1838.4h0M356.2 1886.6h0M383.7 1853.2h0M338 1842.8h0M278.3 1873.8h0M292.9 1872.1h0M388.8 1879h0M274.5 1863.4h0M350.3 1888.2h0M245.3 1883.2h0M310.2 1878.8h0M286.4 1857.7h0M360.8 1876.6h0M314.7 1845.6h0M234 1889.6h0M325.2 1868h0M345.2 1853.6h0M223.5 1890.2h0M320.3 1872.7h0M269.6 1865.8h0M370.8 1847.2h0M397 1855.1h0M336.6 1856.8h0M258.6 1872.6h0M285.7 1855.7h0M356.1 1849.4h0M342.8 1897.6h0M347.3 1849.5h0M340.2 1852.1h0M289.4 1853.5h0M337 1870h0M310.3 1853.8h0M303 1876.8h0M381.6 1894.6h0M370.2 1847.5h0M385.8 1891.3h0M252.6 1886.8h0M337.4 1857.2h0M284.1 1850.9h0M274.8 1867h0M397 1865.5h0M345.7 1854.6h0M294.7 1846h0M389.5 1855.1h0M374.8 1900.6h0M345.2 1862.1h0M306 1863.5h0M376.4 1885.4h0M255 1864.1h0M359.4 1842.3h0M273.1 1874.6h0M175.7 1902.8h0M163.3 1910.6h0M188.1 1898.9h0M219.4 1885h0M193.3 1894.7h0M142 1935.8h0M180.6 1902.5h0M165.8 1922.8h0M164 1913.2h0M129.4 1924.8h0M157.8 1927.2h0M137.1 1920.3h0" stroke="#F0E442" stroke-width="7.8" stroke-linecap="round" stroke-opacity="0.85" fill="none"/>
<path d="M401.5 1684.5h0" stroke="#0072B2" stroke-width="7.8" stroke-linecap="round" stroke-opacity="0.85" fill="none"/>
<path d="M106.5 2058L106 1975L109 1963.6L128.2 1946L147.3 1932L175.9 1919L195 1908L214 1900L242.7 1892L271.3 1884L290.4 1877L309.5 1883L328.5 1898L347.6 1912L347.6 1936.9L328.5 1963.6L299.9 1986.5L271.3 2001.8L242.7 2020.8L214 2032.3L185.4 2039.9L156.8 2049.5L128.2 2055.2L109 2058Z" fill="#F0E442"/>
<path d="M318.7 1969.7h0M171.6 2033.5h0M137.8 2049.1h0M272.2 1978.7h0M192 2036.6h0M238.9 2021.1h0M255.8 1987.7h0M293.8 1982.5h0" stroke="#009E73" stroke-width="7.8" stroke-linecap="round" stroke-opacity="0.85" fill="none"/>
<path d="M300.5 1983.8h0M271.4 1995.6h0M208.2 2015.9h0M214.4 2031.5h0M253.5 1996.3h0M270.8 1997h0M258 1986.3h0M256 1995.7h0M292.3 1959.8h0M172.1 2040.1h0M239.7 1997.4h0M296.5 1954.3h0M252.5 1985.9h0M213.1 2004.3h0M241.8 2021.1h0M290.9 1957h0M173.8 2043.7h0M268.1 1980.5h0M253.2 1994.8h0M248.7 2013h0M336.7 1926.7h0M324.2 1947.4h0M141 2041.9h0M298.4 1979.4h0M161.1 2028.8h0M323.2 1949.2h0M116.4 2058.1h0M226.9 2024.7h0M156.6 2050.9h0M223 2028.2h0M219.8 1998.3h0M335.1 1944.5h0M280.5 1974.3h0M167 2046.2h0M259.4 1981h0M312.4 1972.8h0M160.9 2047.2h0M132.7 1965.2h0M276.8 1882.6h0M329.4 1901.5h0M290.5 1877.3h0M132 1943.4h0M209.3 1901.9h0M127.9 1970.4h0M296.2 1927.9h0M255.6 1939.8h0M328.4 1897.4h0M289.7 1928.6h0M148.3 1931.9h0M139.9 1936.2h0M282.8 1879.5h0" stroke="#1BA58A" stroke-width="7.8" stroke-linecap="round" stroke-opacity="0.85" fill="none"/>
<path d="M332.8 1943.6h0M288.2 1989.4h0M269.8 1983.7h0M294.5 1958h0M212.8 2002.3h0M280 1985.2h0M234.3 2011.4h0M268.4 2003.7h0M255.6 2008.1h0M280.1 1992.7h0M187.6 2026.5h0M192.4 2026.4h0M255.1 2005.8h0M212.4 2005h0M241.2 1994h0M253.6 1985.7h0M301.3 1949.8h0M291.4 1985.3h0M331.1 1948.5h0M316.9 1941.2h0M178.1 2024.8h0M239.5 1991.5h0M219.7 2015h0M295.8 1980.2h0M268.2 1997.3h0M276.9 1979.1h0M261.2 1983.5h0M213.2 2014.4h0M253 1992.5h0M251.2 1983.5h0M263 1976.7h0M253.9 1979.2h0M306.9 1977.7h0M234.3 2021.8h0M193.4 2018.3h0M220.1 2023.1h0M285.6 1962.5h0M257.4 2007.9h0M318.6 1967.8h0M264.3 1973.4h0M340.1 1931.1h0M275 1971.3h0M326.7 1950.5h0M309.1 1972.6h0M309.8 1978h0M318.4 1971.1h0M185.7 2036.1h0M217.4 2000.4h0M320.8 1952.3h0M270.6 1998.6h0M137.3 2043.7h0M313.8 1975.5h0M159.4 2048.3h0M323.8 1965.2h0M319.6 1970.7h0M201.1 2010.8h0M293.7 1965.5h0M180.8 2023.6h0M191 2039h0M255.5 1980.1h0M240.8 2019h0M320.1 1970.2h0M143.6 2042.4h0M236.6 2025h0M199.2 2014.8h0M270.5 2000.9h0M269.4 1979.7h0M151.4 2052.5h0M300 1987.4h0M309.9 1980h0M331.1 1956.2h0M246.6 2020.9h0M337.4 1948.7h0M236.3 1990.8h0M117.6 2056.6h0M191.3 2037.8h0M166.1 2051.8h0M236.6 2023.5h0M301.7 1984.2h0M225.8 1994.5h0M243.6 2021.8h0M305.7 1956.6h0M257.6 1983.2h0M245.7 1987.9h0M170 2042.8h0M245.8 1991h0M139.1 2042.2h0M206.5 2006.4h0M207.6 2004h0M198.4 1952.4h0M108.6 1975.9h0M232.6 1944h0M132.5 1942.6h0M260.4 1892.4h0M235.9 1941h0M192 1953.6h0M169.3 1920.8h0M197.2 1906h0M289.9 1875h0M333.4 1919.4h0" stroke="#A8CF55" stroke-width="7.8" stroke-linecap="round" stroke-opacity="0.85" fill="none"/>
<path d="M298.3 1956.1h0M157.6 2043.9h0M236.3 1999.9h0M225.7 2021.5h0M218.7 2008.8h0M274.5 1970.7h0M209.9 2030.7h0M258 2003.4h0M169.4 2033.7h0M335.4 1937.5h0M183.9 2034.1h0M333.7 1948.8h0M250.7 2008.8h0M170.6 2040h0M257.5 2000.3h0M262.3 2002.8h0M260.3 1995.7h0M321 1944.5h0M256.9 1985.3h0M170.1 2038.7h0M246.8 1992.2h0M304.3 1958h0M301.1 1957.7h0M229.6 2014.9h0M292 1981.6h0M212.4 2032.6h0M292.4 1987.9h0M202.4 2026.6h0M251.5 1979.4h0M260.8 1997.8h0M273.6 1996.2h0M255.1 1995.8h0M241.9 1991.7h0M336 1938.9h0M297.8 1958.6h0M317.4 1944.8h0M254.2 2010.9h0M236.7 2012.5h0M333.4 1931h0M187.6 2019.8h0M227.2 2015.4h0M201.9 2034.1h0M214.7 2013.7h0M206.6 2010.1h0M242.2 2019.9h0M195.5 2021.4h0M179.9 2033.7h0M221.9 2009.3h0M301.1 1961.6h0M339.3 1949.8h0M173.6 2026.4h0M265.5 2002.6h0M166.5 2027.7h0M156.1 2032.2h0M211.4 2008.7h0M301.5 1985.8h0M186 2041.1h0M338.7 1946.4h0M207.3 2035.6h0M245.3 2022.6h0M335.3 1955h0M253.5 1986.9h0M289.9 1967.6h0M339.6 1948.9h0M258.7 1985.6h0M170.3 2028.4h0M288.5 1926.2h0M158.7 1926h0M269.9 1884.5h0M260.3 1937.1h0M152.9 1964.8h0M111.4 1972.1h0M209.7 1949.1h0M312.1 1890.9h0M106.9 1971.7h0M232.9 1942.5h0M283.1 1879.3h0M254.5 1892.2h0M315 1920.4h0M114.8 1958.5h0M245.3 1938.8h0M300.5 1882h0M146.5 1932.1h0M119.7 1955h0M173.3 1953.4h0M297.4 1881.7h0M325.2 1895.6h0M201.1 1948.6h0M111.5 1970.7h0M288.6 1929.4h0M347 1911.4h0M139.5 1932.5h0M272.6 1933.6h0M285.3 1930.5h0M323.1 1895.6h0M316.3 1890.1h0M214.4 1897.6h0M118.9 1971h0M187.8 1914.1h0M322.4 1890.7h0M170.1 1919.7h0" stroke="#F0E442" stroke-width="7.8" stroke-linecap="round" stroke-opacity="0.85" fill="none"/>
<path d="M234.4 1935.8h0M168.7 1942.7h0M233.4 1946.1h0M179.6 1962.9h0M219.3 1910.1h0M231.2 1981.4h0M215.5 1915.5h0M179.4 1952.5h0M205.7 1915.2h0M314 1931.8h0M137.5 1955h0M138.1 1975.2h0M216.8 1997.6h0M289.6 1951.8h0M133.2 2039.8h0M162.8 2017.6h0M115.3 1967.5h0M179.1 1968.5h0M198.5 1976.5h0M264.9 1927.3h0M184.9 1953.9h0M177.3 1970.8h0" stroke="#1BA58A" stroke-width="5" stroke-linecap="round" stroke-opacity="0.8" fill="none"/>
<path d="M239.9 1925.7h0M328.6 1917.8h0M124.1 1974.4h0M229.5 1929.6h0M145.9 1957.2h0M237.3 1984h0M307.2 1909.3h0M193 2011.8h0M207.8 2002.6h0M227.9 1991.2h0M222 1947.1h0M129 1969.2h0M173.5 1994.3h0M166.9 1927.8h0M290 1947.7h0M209.4 1994.9h0M155.9 2013.3h0M121.7 2042.7h0M255.1 1939.7h0M149.3 1987.1h0M235.6 1974.1h0M229.6 1988.6h0M219.6 1992.8h0M215.4 2000.2h0M175.9 1965.9h0M259.2 1942.6h0M245.8 1921.4h0M274.5 1888.9h0" stroke="#A8CF55" stroke-width="5" stroke-linecap="round" stroke-opacity="0.8" fill="none"/>
<line x1="104.5" y1="2064.4" x2="557.5" y2="1785.4" stroke="#2A6FA8" stroke-width="8" stroke-linecap="round" stroke-opacity="0.9"/>
<line x1="104.5" y1="2064.4" x2="476.5" y2="1835.2" stroke="#0D3D6B" stroke-width="6" stroke-linecap="round"/>
<line x1="87.7" y1="2075.8" x2="576.7" y2="1774.6" stroke="#000000" stroke-width="1.2"/>
<text x="627" y="1648.3" font-size="57" font-family="'DejaVu Sans',sans-serif" font-weight="bold">G</text>
<line x1="792.1" y1="1664.4" x2="792.1" y2="2077.6" stroke="#EBEBEB" stroke-width="1"/>
<line x1="897" y1="1664.4" x2="897" y2="2077.6" stroke="#EBEBEB" stroke-width="1"/>
<line x1="1003.2" y1="1664.4" x2="1003.2" y2="2077.6" stroke="#EBEBEB" stroke-width="1"/>
<line x1="1108.8" y1="1664.4" x2="1108.8" y2="2077.6" stroke="#EBEBEB" stroke-width="1"/>
<line x1="688.4" y1="1756" x2="1175" y2="1756" stroke="#EBEBEB" stroke-width="1"/>
<line x1="688.4" y1="1917.4" x2="1175" y2="1917.4" stroke="#EBEBEB" stroke-width="1"/>
<line x1="688.4" y1="2078.7" x2="1175" y2="2078.7" stroke="#EBEBEB" stroke-width="1"/>
<line x1="739.2" y1="1664.4" x2="739.2" y2="2077.6" stroke="#EBEBEB" stroke-width="1.9"/>
<line x1="844.7" y1="1664.4" x2="844.7" y2="2077.6" stroke="#EBEBEB" stroke-width="1.9"/>
<line x1="950.3" y1="1664.4" x2="950.3" y2="2077.6" stroke="#EBEBEB" stroke-width="1.9"/>
<line x1="1055.8" y1="1664.4" x2="1055.8" y2="2077.6" stroke="#EBEBEB" stroke-width="1.9"/>
<line x1="1162.4" y1="1664.4" x2="1162.4" y2="2077.6" stroke="#EBEBEB" stroke-width="1.9"/>
<line x1="688.4" y1="1675.1" x2="1175" y2="1675.1" stroke="#EBEBEB" stroke-width="1.9"/>
<line x1="688.4" y1="1836.9" x2="1175" y2="1836.9" stroke="#EBEBEB" stroke-width="1.9"/>
<line x1="688.4" y1="1998.2" x2="1175" y2="1998.2" stroke="#EBEBEB" stroke-width="1.9"/>
<text x="678.7" y="1680.9" font-size="16.2" text-anchor="end" fill="#4D4D4D">10000</text>
<text x="678.7" y="1842.7" font-size="16.2" text-anchor="end" fill="#4D4D4D">100</text>
<text x="678.7" y="2004" font-size="16.2" text-anchor="end" fill="#4D4D4D">1</text>
<text x="739.2" y="2100.8" font-size="16.2" text-anchor="middle" fill="#4D4D4D">1</text>
<text x="844.7" y="2100.8" font-size="16.2" text-anchor="middle" fill="#4D4D4D">10</text>
<text x="950.3" y="2100.8" font-size="16.2" text-anchor="middle" fill="#4D4D4D">100</text>
<text x="1055.8" y="2100.8" font-size="16.2" text-anchor="middle" fill="#4D4D4D">1000</text>
<text x="1162.4" y="2100.8" font-size="16.2" text-anchor="middle" fill="#4D4D4D">10000</text>
<text x="943.5" y="2125.8" font-size="22" text-anchor="middle">QN + ComBat Repeatability</text>
<text x="643.5" y="1879.5" font-size="22" text-anchor="middle" transform="rotate(-90 643.5 1879.5)">Repeatability</text>
<path d="M730 2030L760 2012L800 2000L860 1990L940 1992L990 2000L1000 2015L975 2036L930 2042L860 2044L800 2042L750 2040Z" fill="#C9A040"/>
<path d="M835 2004L870 2000L905 2000L935 2006L950 2022L935 2035L900 2038L865 2036L840 2030L828 2016Z" fill="#E69F00"/>
<path d="M718.6 2015L747.3 2011.2L785.4 2001.7L823.6 1992.1L861.8 1984.5L899.9 1976.9L938.1 1980.7L976.3 1988.3L1010 1993L1030 2000L1025 2008L990 2008L950 2000L900 1994L860 1998L823.6 2004L790 2012L766.3 2020L740 2028L718.6 2034Z" fill="#1BA58A"/>
<path d="M1107.9 1982.8h0M1132.4 1962.1h0M1121.5 1992.7h0M1088.7 1965.1h0M1090.2 1950.8h0M1088.9 1946.3h0M1080.1 1927.4h0M1080.8 1932.9h0M1103.2 1928.6h0M1003.3 1925.9h0M1061.7 1940.9h0M1062.2 1946.4h0M1059.6 1951.9h0M1048.8 1932.5h0M1093.4 1926.5h0M1007.9 1929.2h0M988.4 1918.7h0M988 1924.2h0M1082.1 1940.9h0M1008.6 1933.9h0M1031.2 2011.2h0M1012.3 2024.1h0M1011.2 2028.6h0M1012.6 2034.1h0M1049.5 2022.7h0M1083.3 2043h0M1010.6 2028.5h0M990.1 2030.1h0M931.7 2034.3h0M752.5 2039.3h0M893.1 2032h0M914.1 2033.8h0M948.4 2018.8h0M868.5 2033.9h0M957.8 2031.6h0M765.7 2018.9h0M950.4 2020.7h0M928.3 2034.2h0M929.5 2020.2h0M880.1 2026.3h0M997 2017h0M859.3 2019.4h0M974.3 2027.8h0M859.7 2020.6h0M818 2039.4h0M751.5 2039.2h0M1007.3 2014.5h0M923.4 2020.5h0M892.8 2023.8h0M859.5 2014.9h0M794.1 2019h0M848.3 2028.3h0M876.1 2032h0M987.5 2017.6h0M843.9 2025.6h0M730 2034.8h0M997.7 2026.6h0M881.9 2033.9h0M920.1 2020.6h0M917.3 2034.5h0M813.5 2026.1h0M824.8 2024.7h0M974.2 2018.1h0M873.7 2016.6h0M738.6 2023.8h0M926 2023.3h0M835.9 2021.6h0M1016.2 2014.3h0M830.6 2038.8h0M1005.2 2019h0M825.1 2019.5h0M801.3 2035.1h0M818.1 2019.6h0M792.5 2026.6h0M1007.7 2016.4h0M908.2 2021.5h0M962.5 2012.8h0M781.2 2036.4h0M730.5 2029.3h0M802.1 2012.9h0M749.9 2027.4h0M940 2025.6h0M926 2014.2h0M948.8 2017h0M767.5 2040.9h0M899.3 2021.4h0M877.3 2018.1h0M988.5 2025.7h0M800.6 2037.2h0M1013.2 2013.7h0M799 2031h0M930.3 2016.5h0M842.5 2029.3h0M770.7 2034.3h0M816.8 2029.8h0M830.7 2024.6h0M832.8 2016.9h0M851.4 2038.7h0M747.6 2031.8h0M835 2027.7h0M975.6 2015.6h0M963.6 2017.8h0M845.4 2039.6h0M977 2016.4h0M979.8 2014.1h0" stroke="#E69F00" stroke-width="7.8" stroke-linecap="round" stroke-opacity="0.85" fill="none"/>
<path d="M1099.3 1955.6h0M1155.4 1985.4h0M1156 1990.9h0M1145.5 2016.6h0M1090.4 1970.6h0M1090.9 1978.9h0M1032 2022.2h0M1030 2039h0M986.8 2011h0M1054.8 2033.5h0M1056.1 2044.5h0M972.5 2020.4h0M988.1 2026.7h0M1012.6 2023.1h0M1028.9 2006h0M1049.6 2033.7h0M1084.1 2048.5h0M990.4 2035.6h0M715.7 1946.1h0M831 1890h0M786 1921h0M1105 2027h0M924.4 2012.3h0M919.3 2012.7h0M864.6 2014.1h0M1015.3 2014.6h0M721.1 2027.2h0M878.4 2016.6h0M836.8 2021.8h0M804 2018.7h0M882.6 2030.4h0M792.8 2018.6h0M874.5 2033.6h0M765.4 2023.8h0M779.8 2022.7h0M839.8 2018.8h0M792.6 2024.6h0M912.3 2033.6h0M895.7 2023.1h0M787.5 2022.9h0M847 2019.9h0M862.9 2015.7h0M765.2 2019.9h0M753.7 2027.2h0M850.2 2030.4h0" stroke="#000000" stroke-width="7.8" stroke-linecap="round" stroke-opacity="0.85" fill="none"/>
<path d="M1107.9 1961.8h0M1132.9 1967.6h0M1085.2 1968.9h0M1122 1998.2h0M1088.5 1976.1h0M1053.8 2034.2h0M1093.9 2030.4h0M1030.2 2033.5h0M987.2 2016.5h0M1055.4 2039h0M1084.6 2037.5h0M1010.2 2034h0M980.1 2014.2h0M953.3 2032.6h0M826 2013.2h0M1020 2014.4h0M732.3 2037.4h0M994 2026.6h0M850.2 2019h0M853.3 2027.3h0M867.2 2038.7h0M918.1 2013.2h0M787.6 2024h0" stroke="#56B4E9" stroke-width="7.8" stroke-linecap="round" stroke-opacity="0.85" fill="none"/>
<path d="M1076.2 1949.2h0M1111.4 1956.8h0M1091.3 1984.4h0M810.2 1907.4h0M882.1 1899.8h0M862.7 1897h0M763.6 2022h0M999.5 2020.1h0M797.3 2019.3h0M947 2025.8h0M812.3 2035.9h0M920.7 2036.8h0M931.6 2016.9h0M789.2 2024.6h0M735.3 2026.6h0M796.7 2018.6h0M816.8 2017.1h0M724.6 2029.3h0" stroke="#009E73" stroke-width="7.8" stroke-linecap="round" stroke-opacity="0.85" fill="none"/>
<path d="M1098.9 1961.1h0M1107.9 1972.8h0M1107.4 1988.3h0M1107.2 1993.8h0M1117.4 1999.4h0M1133.6 1973.1h0M1141.4 2002.3h0M1140.4 2007.8h0M1145.3 2011.1h0M1143.4 2005.5h0M1090.9 1989.9h0M1087.5 1951.8h0M1067.4 1930.4h0M1048.4 1921.5h0M1081.7 1935.4h0M1009 1922.9h0M1032.7 2016.7h0M1030.6 2028h0M985.6 2005.5h0M1002.4 2015.3h0M1050.3 2028.2h0M991.1 2041.1h0M896.4 1896.5h0M874 1897.2h0M878.3 1914.9h0M810.1 1901.9h0M858.7 1912h0M859.5 1917.5h0M738.5 1942.3h0M738.8 1947.8h0M761.3 2022.6h0M875.9 2028.7h0M946.1 2017.2h0M873.1 2023.4h0M725.4 2026.1h0M785.3 2030.4h0M763.9 2028.3h0M835.4 2023.8h0M831.8 2025h0M866.4 2022h0M874.1 2017.7h0M952.4 2024.4h0M861.8 2029.3h0M759.7 2018.8h0M840.3 2017.8h0M876.5 2017.2h0M788.6 2036.6h0M1008.8 2021.5h0M806.7 2022.3h0M1018.9 2017.3h0M974.8 2025.1h0M847.3 2038.4h0M1012.4 2010.8h0M819.1 2022.7h0M980.7 2020.3h0M970.6 2032.9h0M1008.4 2023h0M904.8 2031.7h0M922 2017.1h0M966.5 2029.2h0M945.7 2017.1h0M1007.1 2023.6h0M1000.3 2031.7h0M880.5 2023.4h0M732.7 2029.7h0M905.9 2029.3h0M914.4 2020.7h0" stroke="#1BA58A" stroke-width="7.8" stroke-linecap="round" stroke-opacity="0.85" fill="none"/>
<path d="M1107.9 1967.3h0M1118 2004.9h0M1043 1920.1h0M1007.4 1923.7h0M815.2 1896.6h0M828.2 1903.8h0M714 1940.6h0M725.9 1954.7h0M716.3 1947h0M725.4 1953.9h0M831 1884h0M893 1900h0M880 1895h0" stroke="#A8CF55" stroke-width="7.8" stroke-linecap="round" stroke-opacity="0.85" fill="none"/>
<path d="M1099.2 1966.6h0M1085.5 1974.4h0M1143.5 2011h0M1088.4 1940.8h0M1003.2 1920.4h0M1047.9 1927h0M1078.7 1925.9h0M1009.9 1928.4h0M827.6 1909.3h0M881.2 1905.3h0M868.7 1905.9h0M867.8 1911.4h0M743.4 1956.5h0M743.1 1962h0M741.7 1939.3h0M742.2 1944.8h0M736.8 1960h0" stroke="#F0E442" stroke-width="7.8" stroke-linecap="round" stroke-opacity="0.85" fill="none"/>
<path d="M930.3 2022.1h0M850.6 2021.1h0M863.4 2026.1h0M874.5 2005.5h0M934.8 2020.5h0M912.1 2030.7h0M869.8 2005.7h0M850.2 2031.1h0M910.9 2014.9h0M886 2006h0M931.1 2014.9h0M934.5 2023.2h0M837.3 2012.5h0M899.9 2001.7h0M848.7 2013.7h0M885.1 2021.9h0M875.3 2013.4h0M868.7 2000.8h0M909.9 2010.4h0M861.3 2019h0M860 2021.6h0M892.4 2036.4h0M896.4 2029.3h0M934.4 2029.4h0M905.2 2024.1h0M872.3 2010.7h0M925 2033.2h0M942.5 2025.9h0M865.1 2029h0M918.2 2019.3h0M905.5 2013.3h0M895.2 2015.4h0M835.4 2012.8h0M886.7 2014h0M857.7 2008.9h0M870.6 2005.2h0M883.3 2016.9h0M897.4 2011.5h0M848.6 2002.5h0M864.8 2011.7h0M916.7 2020.9h0M940.4 2022.2h0M837.8 2006.8h0M898.8 2037.5h0M871.6 2029.4h0M880.2 2033h0M836.3 2018.4h0M937.7 2010.5h0M848.1 2010.2h0M876.7 2007.6h0M907.1 2007.5h0M901.3 2003h0M926.8 2033.3h0M869.6 2005.2h0M851 2020.4h0M934.8 2024.3h0M867.9 2028.5h0M907.2 2015.4h0M910.8 2012.8h0M868.8 2018.8h0M900.9 2009.8h0M884.5 2000.5h0M940.9 2021.4h0M902.9 2027.5h0M868.2 2003.6h0M847.1 2005.4h0M921.6 2003.4h0M893.7 2022.4h0M895.7 2025h0M901.4 2012.6h0M918.4 2009.8h0M914.8 2029h0M922.7 2011.8h0M883.3 2010.6h0M891.8 2035.8h0M886 2024.9h0M922.4 2013.8h0M920.3 2003.4h0M835.3 2019.1h0M895.7 2006.9h0M846.2 2006.7h0M918 2035h0M922.9 2009.2h0M905.6 2013.1h0M925.7 2017.5h0M867.5 2034.3h0M841.2 2027.9h0M836 2024.5h0M877 2032.8h0M835.3 2021.4h0M878 2034.9h0M943.3 2023.8h0M855.3 2009.6h0M860 2016.5h0M856.2 2007.7h0M854.4 2021.6h0M934.1 2010.2h0M919.7 2031.3h0M862.5 2012.6h0M887.2 2033.9h0M847.7 2025.9h0M898.7 2033.5h0M872 2029.6h0M933.3 2006.9h0M864.3 2000.9h0M846.4 2028h0M839.9 2006.4h0M911.3 2003.4h0M869.4 2034.9h0M915.4 2033.5h0M856.6 2030.1h0M912.1 2001.4h0M889.6 2008.8h0M880.5 2004h0M866.6 2033.4h0M842.7 2018.5h0M844.6 2016.3h0M849.8 2026h0M846 2028.1h0M889.1 2004.3h0M871.1 2018.9h0M940.1 2013.3h0M935.7 2027.8h0M861.3 2006.7h0M860.3 2002.6h0M877.8 2021.2h0M872.2 2000.4h0M912 2024.8h0M894.4 2020.9h0M934.6 2027.3h0M876.7 2012.1h0M875.2 2014.6h0M878 2005.4h0M902.2 2035.2h0M859.1 2023.2h0M874 2009.1h0M852.2 2004.4h0M930.9 2029.8h0M912.7 2012.3h0M932.1 2019.4h0M856.6 2023.9h0M918.7 2014.4h0M914.9 2015h0M892.2 2023.3h0M910.6 2012.2h0M904.7 2020.6h0M855.2 2023.3h0M860.3 2034.5h0M891.7 2018.1h0M855 2005.4h0M941.1 2020.1h0M891.9 2020h0M927.2 2009.1h0M849 2031.2h0M884.2 2024.3h0M928.9 2034h0M874.5 2031.6h0M846.8 2009.6h0M859.2 2024.4h0M825.4 2032.8h0M917.5 2007.3h0M782.2 2025.7h0M779 2030.4h0M890.5 2007.2h0M966.1 2013h0M950.9 2007.2h0M851.7 2023.8h0M790.1 2017.8h0M926.6 2016.6h0M916 2005.9h0M948.1 2006.2h0M972 2019.9h0M874.2 2031.4h0M898.5 2020.4h0M951.8 2009.7h0M844 2034.1h0M911.2 2003.7h0M841.6 2017.3h0M823.2 2027.2h0M808.5 2028.8h0M834.1 2004.4h0M888.6 2028.8h0M898.1 2017.7h0M790.9 2024h0M845.9 2014.7h0M806.5 2034h0M841.3 2030.6h0M959 2006h0M876.7 2020.2h0M795.3 2017.9h0M879 2014.5h0M812.5 2015.7h0M821.6 2031.6h0M877.9 2032.3h0M875 2028.9h0M892.6 2025.4h0M803 2011h0M881.4 2011.9h0M894.4 2010h0M922.8 2004.1h0M822.8 2022.4h0M902.9 2025.5h0M945.1 2013.6h0M972.2 2016h0M857.5 2005h0M915.9 2007.1h0M844 2006.8h0M812.6 2009.5h0M873.1 2018.9h0M937.5 2032.9h0M812.8 2023.3h0M845.1 2007.5h0M930.3 2006.6h0M964.5 2027.3h0M949 2029.3h0M947.4 2028.7h0M957.2 2012.2h0M976.6 2020.1h0M819.9 2008.7h0M868.4 2010h0M875.9 2032.9h0M917.3 2026.2h0M854.3 2028.7h0M857.3 2005h0M910.3 2030.4h0M843 2022.2h0M949.8 2029h0M944.7 2016.2h0M903.1 2011.9h0M788.9 2011.2h0M912.1 2029.4h0M818.2 2032.3h0M854.8 2019h0M975.5 2019.2h0M948.6 2007.5h0M807.7 2034.1h0M867.7 2029.5h0M823.9 2014h0M791.7 2020.8h0M851 2033.6h0M962.2 2024.7h0M786.3 2023.2h0M865.5 2034.6h0M847.8 2024.5h0M965 2018.9h0M848.2 2035.2h0M782.3 2030.4h0M866.3 2027.5h0M961.6 2026.8h0M839.9 2006.7h0M801.1 2022h0M894 2003.6h0M854.3 2027.4h0M907.9 2011.5h0M933.9 2011.9h0M943.1 2025h0M1015.8 1973.5h0M1002.8 1996.7h0M1050 1993.4h0M999.7 1993.5h0M1035.7 1987.9h0M1073.2 1984.7h0M1047.3 1986.2h0M1059.7 2001.5h0M1050.7 2003.2h0M1043.4 2006.2h0M1013.2 1993.2h0M1066.4 1972.1h0M1043.7 1990.6h0M1007.6 1981.5h0M1069.9 1988.6h0M1039.4 1994.3h0" stroke="#E69F00" stroke-width="7.8" stroke-linecap="round" stroke-opacity="0.85" fill="none"/>
<path d="M927.3 2016.1h0M900.3 2037.8h0M818 2020.6h0M957.8 2018.3h0M805.3 2020.2h0M819.3 2027.5h0M944.3 2017.7h0M931.6 2023.6h0M789.9 2026.4h0M920.8 2017h0M809.6 2011.2h0M994.9 1975.1h0M1003.8 2002.8h0M1068.7 1993.7h0M1030.2 1992.9h0M1053.6 1971.7h0M1056.5 1988.9h0M1033.5 2007.2h0M1007.3 2000.8h0" stroke="#000000" stroke-width="7.8" stroke-linecap="round" stroke-opacity="0.85" fill="none"/>
<path d="M922.9 1991.2h0M864.1 1985.1h0M734.2 2021.1h0M798.7 2009.1h0M918.4 1992.1h0M1016.3 2006.2h0M1005.1 1995.4h0M913.9 2008.3h0M835 2015.7h0M833.3 2019.3h0M906.8 2020.9h0M885.7 2027.4h0M927.8 2004.7h0M833.1 2009.9h0M895.1 2012.8h0M798.4 2021.7h0M912.6 2007.6h0M776.6 2015.4h0M822.6 2026.9h0M948.1 2033.9h0M940.6 2025.2h0M900 2017.6h0M842.1 2009.3h0M846 2030.7h0M975.9 2014.3h0M955.4 2019.5h0M882.3 2025h0M917 2021h0M887 2016.3h0M851.8 2034.7h0M998.8 2000h0M1028.6 1993.8h0M1034.1 1978.1h0M1050.9 2000.8h0M1024.8 1996.8h0M1007.7 1978.5h0M1054.7 2005h0M1012.3 1983.4h0M1044.3 1991.4h0M1042.7 1986.2h0M998.1 2001.2h0M1062.2 1981.5h0" stroke="#56B4E9" stroke-width="7.8" stroke-linecap="round" stroke-opacity="0.85" fill="none"/>
<path d="M752.8 2013.2h0M999.2 2005.5h0M881.2 1986.1h0M804 1999.7h0M976.4 2000h0M875.5 1992.4h0M893.6 1991.6h0M947 1987.6h0M895.1 1993.6h0M905.8 1994.5h0M895.2 1991.8h0M961.2 2001.2h0M729.8 2029.9h0M914.2 1985.1h0M926.7 1989h0M867.3 1993.2h0M936.3 1988h0M951.1 1986.3h0M802.2 2003.5h0M810 2000.1h0M787.6 2006.2h0M989.9 2002h0M899.7 1981.9h0M942.3 1989.5h0M936.3 1991.1h0" stroke="#009E73" stroke-width="7.8" stroke-linecap="round" stroke-opacity="0.85" fill="none"/>
<path d="M940.2 1992.1h0M739.1 2026.5h0M915.3 1993.3h0M954.4 1988.6h0M818 2001.1h0M833.2 1995.2h0M1018.8 2005.7h0M886.1 1989.3h0M776.1 2005.1h0M743.8 2021.9h0M827.1 1995.6h0M762.8 2011.4h0M1001.4 2001.5h0M775.6 2014.3h0M960.9 1999.1h0M828.3 1992h0M1011.3 2007h0M840.7 1989h0M864.4 1993.7h0M983.5 1992.2h0M851.3 1987.5h0M736.4 2024.2h0M722.2 2031.2h0M891.4 1992h0M821.6 1995h0M930.7 1989h0M817.8 2001.5h0M1024 2004h0M942.6 1990.7h0M970 1993.1h0M731.8 2024.5h0M896.7 1992.5h0M863.5 1988.7h0M745.9 2023h0M959.1 1990.2h0M994.2 2006.7h0M963.8 1985.8h0M988.3 2004.7h0M858.2 1986h0M929.4 1994h0M941.9 1988h0M859.5 1996.3h0M980 1996h0M896.5 1984.8h0M940.2 1988.1h0M971 1996h0M1002 2004.1h0M990.1 1992.1h0M756.2 2017.7h0M737.7 2026.7h0M937.4 1982.8h0M764.4 2009.6h0M839.7 2000.9h0M960.5 1996.2h0M796.2 2001h0M883.9 1980.9h0M912.1 1991.2h0M884.8 1985.4h0M987 1990.5h0M943.8 1993.6h0M878.2 1983.2h0M995.2 2000.9h0M916.8 1979.3h0M926.6 1988.1h0M735.6 2027.7h0M972.7 1994.2h0M767.1 2017.2h0M908 1989h0M757.9 2017.8h0M727.8 2015.7h0M925.2 1997h0M982.3 1997h0M889.2 2033.2h0M901.6 2032.8h0M920.6 2024.4h0M900.9 2017.2h0M854.2 2003.1h0M832.5 2013.8h0M931.3 2018.9h0M828.3 2032.4h0M890.2 2005.3h0M777.3 2019.5h0M813.7 2006.3h0M898 2028.7h0M841.2 2035.2h0M951.8 2028.7h0M896.9 2016.8h0M824.2 2030.5h0M796 2025.2h0M778.9 2030h0M901.2 2032.4h0M905.9 2014.8h0M1004.6 2000.7h0M1037.6 1983h0M1025.9 1995.7h0M1048.8 1985.5h0M1002.5 1998.1h0M1035.4 1996.6h0M1050 1997.4h0M1008.7 1981h0M1017 2005.5h0M1003.8 1976.3h0M1059.7 2000.4h0M1066.5 1982.2h0M996.4 1974h0M1026.1 1991.3h0M1042.3 1996.8h0M1042.1 1998.4h0M1004.8 1995.2h0M999.7 1988h0M994.5 2000.4h0M1038.5 2001h0M1023.8 2004.5h0M1016.4 1979.6h0M993.5 1984.9h0M986.9 1975.4h0M1014.6 1999.7h0M1021.7 2006.1h0M993.1 1974.6h0M1052.1 1998.9h0M1007.4 1976.6h0M1038.2 1994.5h0M1038.8 1996.3h0M995.2 1987.2h0M1009.6 1999.6h0M1050.5 1969.3h0M1068.9 1980.4h0M1059.6 1975.2h0M1062 2001.1h0M1053.8 1975.1h0M1019.6 1981.4h0M1062.2 1970h0M1062.8 1974.6h0M1068.2 1985.7h0M1003.5 1994.8h0M1043.8 1988.2h0" stroke="#1BA58A" stroke-width="7.8" stroke-linecap="round" stroke-opacity="0.85" fill="none"/>
<path d="M951 1995.6h0M992.7 1995.7h0M784.6 2012.5h0M843.6 1999.4h0M791.3 2003.2h0M779.7 2013.3h0M849.7 1990h0M914.7 1991.2h0M1011.5 2006.5h0M758.9 2021.2h0M889.3 1984h0M978.2 1997.2h0M835.7 1991.4h0M719.4 2018.1h0M812.6 2004.3h0M720.7 2024.9h0M835.4 2000.8h0M976 1993.6h0M731.1 2018.2h0M812.7 2001h0M1004.7 2002.4h0M919.3 1989h0M720.1 2015.9h0M774.9 2016.9h0M751.6 2013h0M868.5 1986.5h0M974.9 2004.2h0M801.6 2000.4h0M736.3 2028h0M944.8 1993.7h0M969.9 1996.4h0M1015.7 2005.2h0M929.9 1992.5h0M756.1 2010.8h0M838.3 1995.3h0M763.8 2009.8h0M1018.9 2004.7h0M958.6 1995.3h0M941.4 1997.1h0M893.5 1983.5h0M925.5 1996.4h0M875.8 1989.9h0M938.6 1991.8h0M833.2 1991h0M806.5 1999.9h0M914.4 1987.3h0M1021.3 1977.7h0M1050.9 1982.3h0M1058.1 2002.9h0M1004.3 1991.3h0M991.4 1979.6h0M994.4 1991.6h0M1035 2002h0M1043.5 1974.3h0M1061.3 1969.6h0M1031.8 1985.5h0M1021.7 1992.5h0M1046.3 2003.2h0M986.2 1976.7h0M1046.8 1996.1h0M1073.4 1982.2h0M997.5 2000.5h0M1002.5 1974.9h0M1028.2 1972.8h0M1069.3 1990h0M991.4 1975h0M992.5 1976.9h0M1050.8 1968.3h0M1006.1 1987.5h0" stroke="#A8CF55" stroke-width="7.8" stroke-linecap="round" stroke-opacity="0.85" fill="none"/>
<path d="M1041.7 1980.3h0M1014.8 1990.6h0M1057.8 1989.2h0M987.6 1987.7h0M1041.7 1997.6h0M1031.1 1991.5h0M1071.5 1979.8h0M1031.5 1984.7h0M1002.7 1977h0M1057.4 1985.5h0M1027.9 2002h0M1048.9 2007.5h0M1065 1989h0M1041.2 2004.8h0M1003.5 1976h0M1027.4 1983h0M1045.6 1997.1h0M1006.6 1994.2h0M1005.6 1982.7h0M1055.9 2002.1h0M1067.7 1976.8h0M1053.1 1969.7h0M1001.8 2001.3h0M1018.1 1978.6h0M1039.6 2009h0M1047.3 1991.9h0M1052.7 1977.3h0M1007.5 1983.6h0M1018 1989.2h0M1032.8 1994.2h0M1047.1 2008.5h0M1000.9 1984.7h0M1003.8 1976.7h0M1047.1 1985h0M1045.4 1977.5h0M1044.5 1973.1h0M1017.7 1997.5h0M1010.7 1982.1h0M1063.3 1967.3h0M1044.7 2002.6h0M1026.4 1997h0M1005.8 1984.8h0M1017.5 1986.1h0M1052 1990.3h0M1025.8 1979.3h0M1073.6 1986.7h0M1051.6 1989.2h0" stroke="#F0E442" stroke-width="7.8" stroke-linecap="round" stroke-opacity="0.85" fill="none"/>
<path d="M789.1 2055h0M803.7 2055.7h0M988.6 2050.3h0M851.1 2049.4h0M772.1 2049.6h0M831.1 2051.3h0M918.8 2049.9h0M874.2 2048.3h0M980.6 2045h0M970.5 2047.1h0M960.3 2044.5h0M815.3 2059.3h0M793.6 2056.6h0M946.7 2058.3h0M912.2 2060h0M847.4 2052.7h0M873.5 2051.9h0M828.5 2048h0M941.9 2046.3h0M964.9 2047.8h0M754 2044.6h0M812.5 2053.9h0M807.8 2031.7h0M884.1 2042.3h0M943 2043.7h0M962.9 2048h0M867.2 2040h0M788.7 2036.4h0M887.4 2032.4h0M912.3 2033.9h0M855.3 2048.5h0M772.9 2031.7h0M854.4 2034.4h0M920.4 2031.1h0M947.9 2046.4h0M935.4 2038.7h0M818 2042.9h0M871.9 2038.6h0M830.9 2038.9h0M907.2 2045.9h0M962.6 2034h0M820.9 2039h0M883.3 2037.3h0M797.5 2032.5h0M827.4 2039.3h0M978.3 2047.4h0M953.6 2048.5h0M976.1 2042.2h0M941 2032.1h0M909.6 2042h0M821.2 2041.3h0M974 2039.7h0M902.8 2036.4h0M832 2046.9h0M758.5 2034.4h0M910.1 2039.1h0M771.9 2042.9h0M838.7 2041.5h0M849 2040.5h0M883.6 2038.1h0M778.6 2034.2h0M959.4 2040.9h0M778.2 2046.5h0M811.1 2032.7h0M875.7 2035.5h0M866 2041h0M804.8 2041.3h0M778.3 2040.2h0M889.1 2032.4h0M847.1 2032.3h0M854.4 2046.5h0M880.3 2043.9h0M928.4 2033.1h0M982.8 2044h0M775.8 2045.9h0M843.3 2034.1h0M975.7 2041.1h0M932.6 2033.5h0M932.8 2032h0M807.2 2037.7h0M755.5 2041.7h0M801.7 2036.4h0M916.8 2038.7h0M959.1 2042.2h0M955.2 2041.1h0M965.8 2046.7h0M791.1 2044.4h0M831.5 2044.7h0M910.6 2045.9h0M780.6 2037.7h0M923.8 2048.1h0M920.2 2031.8h0M892.7 2032.8h0M879.9 2045.5h0M778.3 2047.7h0M909.3 2035.6h0M797 2039h0" stroke="#111111" stroke-width="7.8" stroke-linecap="round" stroke-opacity="0.9" fill="none"/>
<path d="M789.1 2050h0M803.7 2050.7h0M988.6 2045.3h0M851.1 2044.4h0M772.1 2044.6h0M831.1 2046.3h0M918.8 2044.9h0M874.2 2043.3h0M980.6 2040h0M970.5 2042.1h0M960.3 2039.5h0M815.3 2054.3h0M793.6 2051.6h0M946.7 2053.3h0M912.2 2055h0M847.4 2047.7h0M873.5 2046.9h0M828.5 2043h0M941.9 2041.3h0M964.9 2042.8h0M754 2039.6h0M812.5 2048.9h0M807.8 2026.7h0M884.1 2037.3h0M943 2038.7h0M962.9 2043h0M867.2 2035h0M788.7 2031.4h0M887.4 2027.4h0M912.3 2028.9h0M855.3 2043.5h0M772.9 2026.7h0M854.4 2029.4h0M920.4 2026.1h0M947.9 2041.4h0M935.4 2033.7h0M818 2037.9h0M871.9 2033.6h0M830.9 2033.9h0M907.2 2040.9h0M962.6 2029h0M820.9 2034h0M883.3 2032.3h0M797.5 2027.5h0M827.4 2034.3h0M978.3 2042.4h0M953.6 2043.5h0M976.1 2037.2h0M941 2027.1h0M909.6 2037h0M821.2 2036.3h0M974 2034.7h0M902.8 2031.4h0M832 2041.9h0M758.5 2029.4h0M910.1 2034.1h0M771.9 2037.9h0M838.7 2036.5h0M849 2035.5h0M883.6 2033.1h0M778.6 2029.2h0M959.4 2035.9h0M778.2 2041.5h0M811.1 2027.7h0M875.7 2030.5h0M866 2036h0M804.8 2036.3h0M778.3 2035.2h0M889.1 2027.4h0M847.1 2027.3h0M854.4 2041.5h0M880.3 2038.9h0M928.4 2028.1h0M982.8 2039h0M775.8 2040.9h0M843.3 2029.1h0M975.7 2036.1h0M932.6 2028.5h0M932.8 2027h0M807.2 2032.7h0M755.5 2036.7h0M801.7 2031.4h0M916.8 2033.7h0M959.1 2037.2h0M955.2 2036.1h0M965.8 2041.7h0M791.1 2039.4h0M831.5 2039.7h0M910.6 2040.9h0M780.6 2032.7h0M923.8 2043.1h0M920.2 2026.8h0M892.7 2027.8h0M879.9 2040.5h0M778.3 2042.7h0M909.3 2030.6h0M797 2034h0" stroke="#E69F00" stroke-width="7.8" stroke-linecap="round" stroke-opacity="0.9" fill="none"/>
<path d="M712 1993L713 1972L737.7 1955.9L756.8 1942.5L775.9 1933L795 1925.3L814 1917.7L833 1913.9L852 1912L871.3 1908.2L890.4 1915.8L909.5 1925L928.5 1932L947.6 1936L966.7 1939L985.8 1941L1010 1943L1035 1946L1055 1952L1062 1970L1040 1978L1010 1982L976.3 1986L938.1 1980.7L899.9 1976.9L861.8 1984.5L823.6 1992.1L785.4 2001.7L747.3 2011.2L718.6 2015Z" fill="#F0E442"/>
<path d="M907.2 1928.1h0M1003.4 1979.5h0M742.3 1953.7h0M929.3 1979.7h0M720.2 2016.5h0M1042.8 1949.1h0M750.2 1948.3h0M856.6 1907.5h0M859.6 1912.8h0M1029.5 1980.6h0M1017.5 1983.3h0M969.8 1982.4h0M730.9 1959.3h0M833 1916.1h0M739 1955.3h0M897.8 1917.9h0M885.8 1977.4h0M873.1 1983.2h0M765.9 1936.5h0M902.9 1973.2h0M791.2 1926.8h0M791 1999.6h0M1012.5 1979.5h0M957.2 1936.1h0M832.9 1988.3h0M927.7 1930.3h0M1039.1 1977.1h0M731.8 1960.4h0M754.8 1948h0M943.3 1983.1h0M909.8 1926.1h0M944.5 1933.5h0M799.3 1922.2h0M714.3 1985.1h0M981.8 1941.5h0M939.2 1985.7h0M831.3 1916.4h0M767.2 2006h0M717.9 2010.5h0M815.7 1914.8h0M865 1909.7h0M847 1985h0M749.1 2009.1h0M854.9 1982.1h0M803.4 1920.6h0M873.3 1979.2h0M893.8 1918.7h0M946.5 1983.2h0M1046.7 1974.4h0M972 1986.7h0M872.7 1907.4h0" stroke="#1BA58A" stroke-width="7.8" stroke-linecap="round" stroke-opacity="0.85" fill="none"/>
<path d="M723 2018.1h0M1050.9 1972.2h0M716.6 1981.4h0M1033.3 1979.5h0M906 1979.3h0M915.7 1977.1h0M726.1 1962.5h0M868.9 1984.5h0M766.7 2008.6h0M783 1936.1h0M869.5 1911h0M923.8 1932.9h0M833.3 1988.4h0M774.6 2004.3h0M954.4 1938.8h0M762.5 2008.4h0M759.8 2002.3h0M872.3 1907.3h0M817.2 1990.7h0M936.4 1929.7h0M744.6 1954.9h0M847.9 1987.1h0M1042.8 1951.8h0M951.6 1984.5h0M778.1 1932h0M852.6 1907.8h0M1005.6 1945.2h0M750.4 2012.3h0M861.2 1912.8h0M810.3 1914.8h0M890.1 1910.4h0M973.7 1985.3h0M873.5 1983.6h0M1015.5 1942.9h0M983.4 1942.7h0M1035 1975.4h0M809.6 1993h0M774.1 1933.1h0M938.7 1934.2h0M969.3 1937.1h0M955.9 1935.5h0M802.9 1921.6h0M880.8 1908.6h0M979.4 1986.6h0M1007.6 1944h0M920.6 1980.1h0M730.5 1957.8h0M1016 1982h0M742.6 2008.5h0M1032.7 1980.2h0M713.3 1998.1h0M890.1 1914.9h0M1007.4 1984h0M1014.3 1941.9h0M773.2 1933.1h0M839 1990h0M715.4 1969.4h0M909.8 1975.9h0M748.1 2012.2h0M746 2011.2h0" stroke="#A8CF55" stroke-width="7.8" stroke-linecap="round" stroke-opacity="0.85" fill="none"/>
<path d="M966.9 1982.4h0M1010.4 1982.3h0M880.5 1906.2h0M1059.4 1972.7h0M982.5 1983.6h0M854 1984h0M1054.4 1955.9h0M927.6 1982.2h0M755.1 1942.1h0M919.8 1975.1h0M864.1 1911.9h0M1052.3 1972.9h0M771.5 2007.1h0M953.3 1984.1h0M853.7 1907.7h0M912.3 1929.8h0M750.2 2009.2h0M1058.8 1973h0M1055.4 1971.4h0M872.3 1907.5h0M916.5 1929.4h0M754.3 2008.9h0M760.7 1939.9h0M986.4 1985.6h0M750.1 1947.3h0M725.6 2014.9h0M742.7 1955.7h0M823.4 1993.5h0M872.9 1982.8h0M776.7 1938.6h0M771.9 1938.5h0M780.6 2002h0M728 2012.5h0M1031.9 1942.2h0M716.7 2003.5h0M938.2 1936h0M712.6 1981.9h0M811.9 1993.7h0M966.6 1939.8h0M782 2000.9h0M819.6 1995.6h0M934.3 1931.2h0M941.9 1980.7h0M792.5 1998.6h0M795.5 2001.2h0M872.3 1909.5h0M713.4 1971.3h0M829.4 1914.7h0M978.6 1984.4h0M772.4 2003h0M1005.5 1983.6h0M1007.1 1944h0M849.9 1908.2h0M800.4 1924.3h0M1032 1977.8h0M761.1 2005.7h0M792.9 2002.8h0M841.1 1913.7h0M777.8 2001.5h0M1062 1962.1h0M788.5 1923.9h0M999.3 1941.2h0M887.7 1916.9h0M1035.2 1946.1h0M935.5 1930.1h0M831.3 1912h0M885.8 1976.2h0M801.3 1923.4h0M751.1 1948.8h0M1058.7 1961.1h0M736.9 2012.6h0M1008.6 1983.3h0M741.2 1946.7h0M943.8 1932.3h0M736.2 2014.5h0M1039.4 1978.6h0M711.9 1974.5h0M1052.1 1955.9h0M969.4 1985.6h0M877.4 1912.8h0M887.8 1919.1h0M793.6 1926.7h0M760 2011.8h0M1009.8 1946.3h0M802.8 1997.8h0M792.8 1996.9h0M780.6 1933h0M715.4 2019.6h0M795.2 1927.3h0M713.6 1970.7h0M999.7 1985h0M969.2 1939.1h0M712.9 1986.5h0M945 1980.6h0M994.3 1939.9h0M963.6 1943.3h0M880.1 1983.8h0M749.6 2009.4h0M752 1945h0M900.5 1976.2h0M1053.7 1950.2h0M959.4 1985.8h0M764.5 2006h0M999.3 1940.7h0M875.3 1982.2h0M985.5 1940h0M754.4 1942.4h0M837.8 1990.4h0M1055.7 1956.7h0" stroke="#F0E442" stroke-width="7.8" stroke-linecap="round" stroke-opacity="0.85" fill="none"/>
<path d="M954.7 1937.3h0M723.3 2010.9h0M792.3 1944.2h0M750 1993.2h0M970 1960.3h0M841.2 1937h0M1015.7 1955.1h0M859.4 1941.7h0M767.2 1938.2h0M1023.8 1953.8h0M779.3 1990.7h0M843.1 1920.9h0M1028 1955.1h0M851.1 1971.8h0M848.5 1948.7h0M978.4 1943.8h0M949.9 1974.9h0M948 1973.5h0M814.8 1929.6h0M793.7 1970.8h0M913.1 1942.6h0M937.5 1972.5h0M890.5 1921.3h0M786.5 1941.4h0M857.8 1947h0M917.5 1948.5h0M725.3 1993.3h0M983.7 1959.4h0M845.1 1932.5h0M1006.8 1966.8h0" stroke="#1BA58A" stroke-width="5" stroke-linecap="round" stroke-opacity="0.8" fill="none"/>
<path d="M887.8 1960.4h0M779.9 1979.7h0M997.1 1958.8h0M761.5 1959.9h0M756.5 1981.4h0M956.1 1969.9h0M730.8 1970.5h0M965.1 1945.4h0M955.4 1947.4h0M1054.4 1955h0M752.3 1948.8h0M910 1929.2h0M893.6 1959.8h0M830.1 1948.1h0M890.7 1971h0M789.9 1937.8h0M888 1962h0M858.6 1979.1h0M776.9 1965h0M808.5 1990.4h0M893.1 1934.8h0M1036 1962.8h0M843.3 1939.2h0M852.7 1983.9h0M998.5 1959.7h0M870.2 1946.4h0M819.2 1946.6h0M784.6 1933.2h0M986.5 1978.1h0M948.7 1976h0" stroke="#A8CF55" stroke-width="5" stroke-linecap="round" stroke-opacity="0.8" fill="none"/>
<line x1="699.1" y1="2028.9" x2="1153.2" y2="1681.9" stroke="#2A6FA8" stroke-width="8" stroke-linecap="round" stroke-opacity="0.9"/>
<line x1="699.1" y1="2028.9" x2="1114.1" y2="1711.7" stroke="#0D3D6B" stroke-width="6" stroke-linecap="round"/>
<line x1="688.4" y1="2038.3" x2="1173.9" y2="1666.2" stroke="#000000" stroke-width="1.2"/>
<text x="1217.5" y="1646.7" font-size="56" font-family="'DejaVu Sans',sans-serif" font-weight="bold">H</text>
<line x1="1326.4" y1="1664.8" x2="1326.4" y2="2074.7" stroke="#EBEBEB" stroke-width="1"/>
<line x1="1489.3" y1="1664.8" x2="1489.3" y2="2074.7" stroke="#EBEBEB" stroke-width="1"/>
<line x1="1660" y1="1664.8" x2="1660" y2="2074.7" stroke="#EBEBEB" stroke-width="1"/>
<line x1="1286" y1="1785.7" x2="1770" y2="1785.7" stroke="#EBEBEB" stroke-width="1"/>
<line x1="1286" y1="1928.9" x2="1770" y2="1928.9" stroke="#EBEBEB" stroke-width="1"/>
<line x1="1286" y1="2072.1" x2="1770" y2="2072.1" stroke="#EBEBEB" stroke-width="1"/>
<line x1="1407.9" y1="1664.8" x2="1407.9" y2="2074.7" stroke="#EBEBEB" stroke-width="1.9"/>
<line x1="1570.8" y1="1664.8" x2="1570.8" y2="2074.7" stroke="#EBEBEB" stroke-width="1.9"/>
<line x1="1748.2" y1="1664.8" x2="1748.2" y2="2074.7" stroke="#EBEBEB" stroke-width="1.9"/>
<line x1="1286" y1="1714.7" x2="1770" y2="1714.7" stroke="#EBEBEB" stroke-width="1.9"/>
<line x1="1286" y1="1857.8" x2="1770" y2="1857.8" stroke="#EBEBEB" stroke-width="1.9"/>
<line x1="1286" y1="2000.5" x2="1770" y2="2000.5" stroke="#EBEBEB" stroke-width="1.9"/>
<text x="1275.6" y="1720.5" font-size="16.2" text-anchor="end" fill="#4D4D4D">10000</text>
<text x="1275.6" y="1863.6" font-size="16.2" text-anchor="end" fill="#4D4D4D">100</text>
<text x="1275.6" y="2006.3" font-size="16.2" text-anchor="end" fill="#4D4D4D">1</text>
<text x="1407.9" y="2100.8" font-size="16.2" text-anchor="middle" fill="#4D4D4D">10</text>
<text x="1570.8" y="2100.8" font-size="16.2" text-anchor="middle" fill="#4D4D4D">30</text>
<text x="1748.2" y="2100.8" font-size="16.2" text-anchor="middle" fill="#4D4D4D">100</text>
<text x="1545.6" y="2125.8" font-size="22" text-anchor="middle">QN + ComBat Bhattacharyya distance</text>
<text x="1240.5" y="1884" font-size="22" text-anchor="middle" transform="rotate(-90 1240.5 1884)">Bhattacharyya distance</text>
<line x1="1286" y1="1955.4" x2="1770" y2="1853.2" stroke="#000" stroke-width="2.2"/>
<circle cx="1308.3" cy="1998.9" r="7.2" fill="#F0E442"/>
<circle cx="1308.3" cy="1891.6" r="7.2" fill="#009E73"/>
<circle cx="1308.3" cy="1919.6" r="7.2" fill="#56B4E9"/>
<circle cx="1308.3" cy="1792" r="7.2" fill="#E69F00"/>
<circle cx="1308.3" cy="1784.2" r="7.2" fill="#000000"/>
<circle cx="1308.3" cy="1950.7" r="7.2" fill="#0072B2"/>
<circle cx="1345.1" cy="1970.9" r="7.2" fill="#F0E442"/>
<circle cx="1345.1" cy="1915.9" r="7.2" fill="#009E73"/>
<circle cx="1345.1" cy="1910.2" r="7.2" fill="#56B4E9"/>
<circle cx="1345.1" cy="1811.1" r="7.2" fill="#E69F00"/>
<circle cx="1345.1" cy="1732.8" r="7.2" fill="#000000"/>
<circle cx="1345.1" cy="1941.9" r="7.2" fill="#0072B2"/>
<circle cx="1364.8" cy="2060.2" r="7.2" fill="#F0E442"/>
<circle cx="1364.8" cy="2017.6" r="7.2" fill="#009E73"/>
<circle cx="1364.8" cy="1983.4" r="7.2" fill="#56B4E9"/>
<circle cx="1364.8" cy="1763.4" r="7.2" fill="#E69F00"/>
<circle cx="1364.8" cy="1782.1" r="7.2" fill="#000000"/>
<circle cx="1364.8" cy="1938.2" r="7.2" fill="#0072B2"/>
<circle cx="1474.8" cy="1764.5" r="7.2" fill="#F0E442"/>
<circle cx="1474.8" cy="1998.4" r="7.2" fill="#009E73"/>
<circle cx="1474.8" cy="1836" r="7.2" fill="#56B4E9"/>
<circle cx="1474.8" cy="1711" r="7.2" fill="#E69F00"/>
<circle cx="1474.8" cy="1720.9" r="7.2" fill="#000000"/>
<circle cx="1474.8" cy="1914.9" r="7.2" fill="#0072B2"/>
<circle cx="1487.3" cy="1895.2" r="7.2" fill="#F0E442"/>
<circle cx="1487.3" cy="1852.6" r="7.2" fill="#009E73"/>
<circle cx="1487.3" cy="1866.1" r="7.2" fill="#56B4E9"/>
<circle cx="1487.3" cy="1698" r="7.2" fill="#E69F00"/>
<circle cx="1487.3" cy="1747.3" r="7.2" fill="#000000"/>
<circle cx="1487.3" cy="1912.3" r="7.2" fill="#0072B2"/>
<circle cx="1531.9" cy="1865.1" r="7.2" fill="#F0E442"/>
<circle cx="1531.9" cy="1875" r="7.2" fill="#009E73"/>
<circle cx="1531.9" cy="1889.5" r="7.2" fill="#56B4E9"/>
<circle cx="1531.9" cy="1694.4" r="7.2" fill="#E69F00"/>
<circle cx="1531.9" cy="1716.2" r="7.2" fill="#000000"/>
<circle cx="1531.9" cy="1903" r="7.2" fill="#0072B2"/>
<circle cx="1561.4" cy="1771.2" r="7.2" fill="#F0E442"/>
<circle cx="1561.4" cy="1959.5" r="7.2" fill="#009E73"/>
<circle cx="1561.4" cy="1849.5" r="7.2" fill="#56B4E9"/>
<circle cx="1561.4" cy="1683.5" r="7.2" fill="#E69F00"/>
<circle cx="1561.4" cy="1746.8" r="7.2" fill="#000000"/>
<circle cx="1561.4" cy="1896.7" r="7.2" fill="#0072B2"/>
<circle cx="1747.7" cy="1983.4" r="7.2" fill="#F0E442"/>
<circle cx="1747.7" cy="1968.3" r="7.2" fill="#009E73"/>
<circle cx="1747.7" cy="1954.8" r="7.2" fill="#56B4E9"/>
<circle cx="1747.7" cy="1740.6" r="7.2" fill="#E69F00"/>
<circle cx="1747.7" cy="1781" r="7.2" fill="#000000"/>
<circle cx="1747.7" cy="1857.8" r="7.2" fill="#0072B2"/>
<text x="1782.4" y="1744.2" font-size="25.5">BC method</text>
<circle cx="1802.7" cy="1780.5" r="9.9" fill="#000000"/>
<text x="1834.9" y="1784.9" font-size="20.8">SDC</text>
<circle cx="1802.7" cy="1821.1" r="9.9" fill="#E69F00"/>
<text x="1834.9" y="1825.5" font-size="20.8">QN</text>
<circle cx="1802.7" cy="1861.7" r="9.9" fill="#56B4E9"/>
<text x="1834.9" y="1866.1" font-size="20.8">Average – all samples</text>
<circle cx="1802.7" cy="1902.3" r="9.9" fill="#009E73"/>
<text x="1834.9" y="1906.7" font-size="20.8">Average – D00 samples</text>
<circle cx="1802.7" cy="1942.9" r="9.9" fill="#F0E442"/>
<text x="1834.9" y="1947.3" font-size="20.8">Average – pool samples</text>
<circle cx="1802.7" cy="1983.5" r="9.9" fill="#0072B2"/>
<text x="1834.9" y="1987.9" font-size="20.8">QN + ComBat</text>
<text x="28.5" y="2220.8" font-size="56" font-family="'DejaVu Sans',sans-serif" font-weight="bold">I</text>
<line x1="213.2" y1="2224.3" x2="213.2" y2="2666.4" stroke="#EBEBEB" stroke-width="1"/>
<line x1="370.7" y1="2224.3" x2="370.7" y2="2666.4" stroke="#EBEBEB" stroke-width="1"/>
<line x1="529.1" y1="2224.3" x2="529.1" y2="2666.4" stroke="#EBEBEB" stroke-width="1"/>
<line x1="686.5" y1="2224.3" x2="686.5" y2="2666.4" stroke="#EBEBEB" stroke-width="1"/>
<line x1="139.4" y1="2260.4" x2="809.3" y2="2260.4" stroke="#EBEBEB" stroke-width="1"/>
<line x1="139.4" y1="2385.1" x2="809.3" y2="2385.1" stroke="#EBEBEB" stroke-width="1"/>
<line x1="139.4" y1="2510.3" x2="809.3" y2="2510.3" stroke="#EBEBEB" stroke-width="1"/>
<line x1="139.4" y1="2634.5" x2="809.3" y2="2634.5" stroke="#EBEBEB" stroke-width="1"/>
<line x1="291.9" y1="2224.3" x2="291.9" y2="2666.4" stroke="#EBEBEB" stroke-width="1.9"/>
<line x1="449.4" y1="2224.3" x2="449.4" y2="2666.4" stroke="#EBEBEB" stroke-width="1.9"/>
<line x1="607.8" y1="2224.3" x2="607.8" y2="2666.4" stroke="#EBEBEB" stroke-width="1.9"/>
<line x1="765.3" y1="2224.3" x2="765.3" y2="2666.4" stroke="#EBEBEB" stroke-width="1.9"/>
<line x1="139.4" y1="2323" x2="809.3" y2="2323" stroke="#EBEBEB" stroke-width="1.9"/>
<line x1="139.4" y1="2447.7" x2="809.3" y2="2447.7" stroke="#EBEBEB" stroke-width="1.9"/>
<line x1="139.4" y1="2571.9" x2="809.3" y2="2571.9" stroke="#EBEBEB" stroke-width="1.9"/>
<line x1="133.8" y1="2323" x2="139.4" y2="2323" stroke="#333" stroke-width="2"/>
<line x1="133.8" y1="2447.7" x2="139.4" y2="2447.7" stroke="#333" stroke-width="2"/>
<line x1="133.8" y1="2571.9" x2="139.4" y2="2571.9" stroke="#333" stroke-width="2"/>
<line x1="291.9" y1="2666.4" x2="291.9" y2="2672" stroke="#333" stroke-width="2"/>
<line x1="449.4" y1="2666.4" x2="449.4" y2="2672" stroke="#333" stroke-width="2"/>
<line x1="607.8" y1="2666.4" x2="607.8" y2="2672" stroke="#333" stroke-width="2"/>
<line x1="765.3" y1="2666.4" x2="765.3" y2="2672" stroke="#333" stroke-width="2"/>
<text x="129.3" y="2328.8" font-size="16.2" text-anchor="end" fill="#4D4D4D">20</text>
<text x="129.3" y="2453.5" font-size="16.2" text-anchor="end" fill="#4D4D4D">0</text>
<text x="129.3" y="2577.7" font-size="16.2" text-anchor="end" fill="#4D4D4D">−20</text>
<text x="291.9" y="2688.5" font-size="16.2" text-anchor="middle" fill="#4D4D4D">−25</text>
<text x="449.4" y="2688.5" font-size="16.2" text-anchor="middle" fill="#4D4D4D">0</text>
<text x="607.8" y="2688.5" font-size="16.2" text-anchor="middle" fill="#4D4D4D">25</text>
<text x="765.3" y="2688.5" font-size="16.2" text-anchor="middle" fill="#4D4D4D">50</text>
<text x="474.3" y="2710.8" font-size="22" text-anchor="middle">Dim1 (42.3%)</text>
<text x="90" y="2444.3" font-size="22" text-anchor="middle" transform="rotate(-90 90 2444.3)">Dim2 (24.4%)</text>
<line x1="133.5" y1="2447.7" x2="809.3" y2="2447.7" stroke="#000" stroke-width="2.6" stroke-dasharray="8 8.3"/>
<line x1="449.4" y1="2224.3" x2="449.4" y2="2671.7" stroke="#000" stroke-width="2.6" stroke-dasharray="8 8.3"/>
<line x1="423" y1="2334.3" x2="437" y2="2346" stroke="#F8766D" stroke-width="1.2"/>
<line x1="765" y1="2355" x2="747.2" y2="2390" stroke="#A3A500" stroke-width="1.2"/>
<line x1="770" y1="2390" x2="757.9" y2="2400" stroke="#A3A500" stroke-width="1.2"/>
<line x1="348" y1="2641.5" x2="376.5" y2="2636.5" stroke="#333333" stroke-width="1.2"/>
<line x1="524.7" y1="2643.3" x2="549" y2="2648" stroke="#333333" stroke-width="1.2"/>
<circle cx="183.4" cy="2242.8" r="3.6" fill="#F8766D"/>
<circle cx="190.7" cy="2245.3" r="3.6" fill="#F8766D"/>
<circle cx="249.4" cy="2265.8" r="3.6" fill="#F8766D"/>
<circle cx="275.3" cy="2293.7" r="3.6" fill="#F8766D"/>
<circle cx="316.9" cy="2289.3" r="3.6" fill="#F8766D"/>
<circle cx="347.2" cy="2311.3" r="3.6" fill="#F8766D"/>
<circle cx="423" cy="2334.3" r="3.6" fill="#F8766D"/>
<circle cx="283.6" cy="2282.9" r="6.8" fill="#F8766D"/>
<text x="146.7" y="2244.8" font-size="20.7" fill="#F8766D">DD–D14</text>
<text x="179.5" y="2268.3" font-size="20.7" fill="#F8766D">DD–D10</text>
<text x="229.8" y="2286.4" font-size="20.7" fill="#F8766D">DD–D07</text>
<text x="324.2" y="2280.5" font-size="20.7" fill="#F8766D">DD–D00</text>
<text x="210.3" y="2316.2" font-size="20.7" fill="#F8766D">DD–Pool</text>
<text x="331.5" y="2335.3" font-size="20.7" fill="#F8766D">DD–D02</text>
<text x="414.7" y="2363.6" font-size="20.7" fill="#F8766D">DD–D01</text>
<path d="M661.1 2357.6l4.2 7.4h-8.5z" fill="#A3A500"/>
<path d="M665 2360.5l4.2 7.4h-8.5z" fill="#A3A500"/>
<path d="M683.6 2365.9l4.2 7.4h-8.5z" fill="#A3A500"/>
<path d="M694.4 2383.5l4.2 7.4h-8.5z" fill="#A3A500"/>
<path d="M747.2 2386.9l4.2 7.4h-8.5z" fill="#A3A500"/>
<path d="M757.9 2396.7l4.2 7.4h-8.5z" fill="#A3A500"/>
<path d="M778.5 2399.1l4.2 7.4h-8.5z" fill="#A3A500"/>
<path d="M713 2374.6l8 13.9h-16z" fill="#A3A500"/>
<text x="602.4" y="2353.8" font-size="20.7" fill="#A3A500">Q–D03</text>
<text x="735" y="2352.4" font-size="20.7" fill="#A3A500">Q–D01</text>
<text x="584.4" y="2384.2" font-size="20.7" fill="#A3A500">Q–D04</text>
<text x="685.6" y="2382.2" font-size="20.7" fill="#A3A500">Q–D02</text>
<text x="736" y="2384.2" font-size="20.7" fill="#A3A500">Q–D00</text>
<text x="635.7" y="2413.5" font-size="20.7" fill="#A3A500">Q–Pool</text>
<text x="718.8" y="2428.2" font-size="20.7" fill="#A3A500">Q–D0.5</text>
<rect x="166.6" y="2561.5" width="7.2" height="7.2" fill="#333333"/>
<rect x="205.7" y="2599.6" width="7.2" height="7.2" fill="#333333"/>
<rect x="305.4" y="2611.8" width="7.2" height="7.2" fill="#333333"/>
<rect x="372.9" y="2632.9" width="7.2" height="7.2" fill="#333333"/>
<rect x="409.6" y="2632.9" width="7.2" height="7.2" fill="#333333"/>
<rect x="426.7" y="2629.9" width="7.2" height="7.2" fill="#333333"/>
<rect x="461.4" y="2632.9" width="7.2" height="7.2" fill="#333333"/>
<rect x="465.8" y="2642.7" width="7.2" height="7.2" fill="#333333"/>
<rect x="521.1" y="2639.7" width="7.2" height="7.2" fill="#333333"/>
<rect x="367.6" y="2617.8" width="13" height="13" fill="#333333"/>
<text x="147.7" y="2556.8" font-size="20.7" fill="#333333">VDD–D14</text>
<text x="147.7" y="2589.5" font-size="20.7" fill="#333333">VDD–D07</text>
<text x="251.8" y="2605.7" font-size="20.7" fill="#333333">V–Pool</text>
<text x="360.4" y="2623.8" font-size="20.7" fill="#333333">VDD–D01</text>
<text x="468.5" y="2626.7" font-size="20.7" fill="#333333">VQ–D02</text>
<text x="251.8" y="2642.3" font-size="20.7" fill="#333333">VDD–D00</text>
<text x="360.4" y="2660.4" font-size="20.7" fill="#333333">VQ–D04</text>
<text x="458.2" y="2660.4" font-size="20.7" fill="#333333">VQ–D00</text>
<text x="551.6" y="2656" font-size="20.7" fill="#333333">VQ–D0.5</text>
<text x="948.5" y="2222" font-size="56" font-family="'DejaVu Sans',sans-serif" font-weight="bold">J</text>
<line x1="1064.8" y1="2223.7" x2="1064.8" y2="2666.7" stroke="#EBEBEB" stroke-width="1"/>
<line x1="1321.5" y1="2223.7" x2="1321.5" y2="2666.7" stroke="#EBEBEB" stroke-width="1"/>
<line x1="1579.7" y1="2223.7" x2="1579.7" y2="2666.7" stroke="#EBEBEB" stroke-width="1"/>
<line x1="1005.1" y1="2278.9" x2="1675.1" y2="2278.9" stroke="#EBEBEB" stroke-width="1"/>
<line x1="1005.1" y1="2407.5" x2="1675.1" y2="2407.5" stroke="#EBEBEB" stroke-width="1"/>
<line x1="1005.1" y1="2537.1" x2="1675.1" y2="2537.1" stroke="#EBEBEB" stroke-width="1"/>
<line x1="1005.1" y1="2665.7" x2="1675.1" y2="2665.7" stroke="#EBEBEB" stroke-width="1"/>
<line x1="1193.4" y1="2223.7" x2="1193.4" y2="2666.7" stroke="#EBEBEB" stroke-width="1.9"/>
<line x1="1450.6" y1="2223.7" x2="1450.6" y2="2666.7" stroke="#EBEBEB" stroke-width="1.9"/>
<line x1="1005.1" y1="2343.5" x2="1675.1" y2="2343.5" stroke="#EBEBEB" stroke-width="1.9"/>
<line x1="1005.1" y1="2472.1" x2="1675.1" y2="2472.1" stroke="#EBEBEB" stroke-width="1.9"/>
<line x1="1005.1" y1="2601.7" x2="1675.1" y2="2601.7" stroke="#EBEBEB" stroke-width="1.9"/>
<line x1="999.5" y1="2343.5" x2="1005.1" y2="2343.5" stroke="#333" stroke-width="2"/>
<line x1="999.5" y1="2472.1" x2="1005.1" y2="2472.1" stroke="#333" stroke-width="2"/>
<line x1="999.5" y1="2601.7" x2="1005.1" y2="2601.7" stroke="#333" stroke-width="2"/>
<line x1="1193.4" y1="2666.7" x2="1193.4" y2="2672.3" stroke="#333" stroke-width="2"/>
<line x1="1450.6" y1="2666.7" x2="1450.6" y2="2672.3" stroke="#333" stroke-width="2"/>
<text x="995.4" y="2349.3" font-size="16.2" text-anchor="end" fill="#4D4D4D">20</text>
<text x="995.4" y="2477.9" font-size="16.2" text-anchor="end" fill="#4D4D4D">0</text>
<text x="995.4" y="2607.5" font-size="16.2" text-anchor="end" fill="#4D4D4D">−20</text>
<text x="1193.4" y="2688.7" font-size="16.2" text-anchor="middle" fill="#4D4D4D">−50</text>
<text x="1450.6" y="2688.7" font-size="16.2" text-anchor="middle" fill="#4D4D4D">0</text>
<text x="1340.1" y="2711.7" font-size="22" text-anchor="middle">Dim1 (46.5%)</text>
<text x="955.5" y="2445.2" font-size="22" text-anchor="middle" transform="rotate(-90 955.5 2445.2)">Dim2 (12%)</text>
<line x1="1000.2" y1="2472.1" x2="1675.1" y2="2472.1" stroke="#000" stroke-width="2.6" stroke-dasharray="8 8.3"/>
<line x1="1450.6" y1="2223.7" x2="1450.6" y2="2672.6" stroke="#000" stroke-width="2.6" stroke-dasharray="8 8.3"/>
<line x1="1461.4" y1="2552.8" x2="1460" y2="2587" stroke="#F8766D" stroke-width="1.2"/>
<line x1="1538" y1="2561" x2="1596.8" y2="2562.5" stroke="#A3A500" stroke-width="1.2"/>
<line x1="1614" y1="2580.5" x2="1644.3" y2="2577.2" stroke="#333333" stroke-width="1.2"/>
<circle cx="1153.3" cy="2485.8" r="3.6" fill="#F8766D"/>
<circle cx="1182.6" cy="2487.7" r="3.6" fill="#F8766D"/>
<circle cx="1305.9" cy="2499" r="3.6" fill="#F8766D"/>
<circle cx="1371.9" cy="2515.1" r="3.6" fill="#F8766D"/>
<circle cx="1346.5" cy="2577.7" r="3.6" fill="#F8766D"/>
<circle cx="1461.4" cy="2552.8" r="3.6" fill="#F8766D"/>
<circle cx="1527.4" cy="2646.6" r="3.6" fill="#F8766D"/>
<circle cx="1335.2" cy="2538.1" r="6.8" fill="#F8766D"/>
<text x="1073.6" y="2477.9" font-size="20.7" fill="#F8766D">DD–D14</text>
<text x="1118.6" y="2511.2" font-size="20.7" fill="#F8766D">DD–D10</text>
<text x="1242.3" y="2522" font-size="20.7" fill="#F8766D">DD–D07</text>
<text x="1357.2" y="2538.1" font-size="20.7" fill="#F8766D">DD–D00</text>
<text x="1330.3" y="2568.9" font-size="20.7" fill="#F8766D">DD–Pool</text>
<text x="1376.8" y="2598.2" font-size="20.7" fill="#F8766D">DD–D02</text>
<text x="1437.9" y="2659.4" font-size="20.7" fill="#F8766D">DD–D01</text>
<path d="M1535.7 2237.6l4.2 7.4h-8.5z" fill="#A3A500"/>
<path d="M1536.7 2293.9l4.2 7.4h-8.5z" fill="#A3A500"/>
<path d="M1557.7 2319.8l4.2 7.4h-8.5z" fill="#A3A500"/>
<path d="M1570.9 2393.2l4.2 7.4h-8.5z" fill="#A3A500"/>
<path d="M1586.1 2450.4l4.2 7.4h-8.5z" fill="#A3A500"/>
<path d="M1587 2511.5l4.2 7.4h-8.5z" fill="#A3A500"/>
<path d="M1596.8 2557.9l4.2 7.4h-8.5z" fill="#A3A500"/>
<path d="M1566 2390.1l8 13.9h-16z" fill="#A3A500"/>
<text x="1545.5" y="2245.7" font-size="20.7" fill="#A3A500">Q–D03</text>
<text x="1479.5" y="2289.7" font-size="20.7" fill="#A3A500">Q–D04</text>
<text x="1553.8" y="2345" font-size="20.7" fill="#A3A500">Q–D02</text>
<text x="1561.1" y="2419.3" font-size="20.7" fill="#A3A500">Q–Pool</text>
<text x="1528.4" y="2479.4" font-size="20.7" fill="#A3A500">Q–D01</text>
<text x="1526.9" y="2541.5" font-size="20.7" fill="#A3A500">Q–D0.5</text>
<text x="1470.7" y="2569.9" font-size="20.7" fill="#A3A500">Q–D00</text>
<rect x="1508.6" y="2336.4" width="7.2" height="7.2" fill="#333333"/>
<rect x="1546.8" y="2385.8" width="7.2" height="7.2" fill="#333333"/>
<rect x="1593.2" y="2378" width="7.2" height="7.2" fill="#333333"/>
<rect x="1032.3" y="2432.8" width="7.2" height="7.2" fill="#333333"/>
<rect x="1171.7" y="2433.3" width="7.2" height="7.2" fill="#333333"/>
<rect x="1371.2" y="2474.8" width="7.2" height="7.2" fill="#333333"/>
<rect x="1640.7" y="2573.6" width="7.2" height="7.2" fill="#333333"/>
<rect x="1587.4" y="2621" width="7.2" height="7.2" fill="#333333"/>
<rect x="1556" y="2633.3" width="7.2" height="7.2" fill="#333333"/>
<rect x="1442.2" y="2471.9" width="13" height="13" fill="#333333"/>
<text x="1408.6" y="2352.3" font-size="20.7" fill="#333333">VDD–D00</text>
<text x="1486.8" y="2380.6" font-size="20.7" fill="#333333">VQ–D04</text>
<text x="1588" y="2373.3" font-size="20.7" fill="#333333">VQ–D02</text>
<text x="1045.7" y="2440.3" font-size="20.7" fill="#333333">VDD–D14</text>
<text x="1169" y="2459.9" font-size="20.7" fill="#333333">VDD–D07</text>
<text x="1367" y="2469.6" font-size="20.7" fill="#333333">V–Pool</text>
<text x="1526.9" y="2587" font-size="20.7" fill="#333333">VQ–D0.5</text>
<text x="1588" y="2616.3" font-size="20.7" fill="#333333">VQ–D00</text>
<text x="1569" y="2659.4" font-size="20.7" fill="#333333">VDD–D01</text>
<text x="1733.3" y="2397.5" font-size="24.8">Dataset</text>
<circle cx="1756.7" cy="2420.9" r="8.8" fill="#F8766D"/>
<path d="M1755.9 2447.3L1767 2466H1744.7Z" fill="#A3A500"/>
<rect x="1747.7" y="2492" width="16.7" height="16.1" fill="#333333"/>
<text x="1789.7" y="2426.5" font-size="19.8">DDIS</text>
<text x="1789.7" y="2466.2" font-size="19.8">Q</text>
<text x="1789.7" y="2507.5" font-size="19.8">Validation Batch</text>
</svg>
</body></html>
